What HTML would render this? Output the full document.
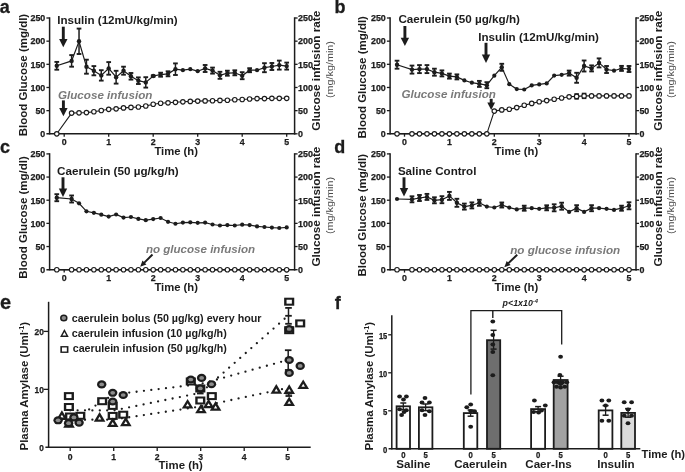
<!DOCTYPE html>
<html><head><meta charset="utf-8"><style>
html,body{margin:0;padding:0;background:#fff;width:685px;height:472px;overflow:hidden}
svg{display:block;filter:grayscale(1)}
text{font-family:"Liberation Sans",sans-serif}
</style></head><body>
<svg width="685" height="472" viewBox="0 0 685 472" font-family="Liberation Sans, sans-serif">
<rect width="685" height="472" fill="#fff"/>
<line x1="49.6" y1="17.3" x2="49.6" y2="134.5" stroke="#1c1c1c" stroke-width="1.5" />
<line x1="294.6" y1="17.3" x2="294.6" y2="134.5" stroke="#1c1c1c" stroke-width="1.5" />
<line x1="46.4" y1="133.8" x2="295.3" y2="133.8" stroke="#1c1c1c" stroke-width="1.5" />
<line x1="294.6" y1="133.8" x2="297.6" y2="133.8" stroke="#1c1c1c" stroke-width="1.3" />
<text x="45.3" y="137.1" font-size="8.4" font-weight="bold" font-style="normal" text-anchor="end" fill="#1c1c1c" textLength="4.95" lengthAdjust="spacingAndGlyphs" stroke="#1c1c1c" stroke-width="0.25">0</text>
<text x="298" y="137.1" font-size="8.4" font-weight="bold" font-style="normal" text-anchor="start" fill="#1c1c1c" textLength="4.95" lengthAdjust="spacingAndGlyphs" stroke="#1c1c1c" stroke-width="0.25">0</text>
<line x1="46.4" y1="110.64" x2="49.6" y2="110.64" stroke="#1c1c1c" stroke-width="1.3" />
<line x1="294.6" y1="110.64" x2="297.6" y2="110.64" stroke="#1c1c1c" stroke-width="1.3" />
<text x="45.3" y="113.94" font-size="8.4" font-weight="bold" font-style="normal" text-anchor="end" fill="#1c1c1c" textLength="9.9" lengthAdjust="spacingAndGlyphs" stroke="#1c1c1c" stroke-width="0.25">50</text>
<text x="298" y="113.94" font-size="8.4" font-weight="bold" font-style="normal" text-anchor="start" fill="#1c1c1c" textLength="9.9" lengthAdjust="spacingAndGlyphs" stroke="#1c1c1c" stroke-width="0.25">50</text>
<line x1="46.4" y1="87.48" x2="49.6" y2="87.48" stroke="#1c1c1c" stroke-width="1.3" />
<line x1="294.6" y1="87.48" x2="297.6" y2="87.48" stroke="#1c1c1c" stroke-width="1.3" />
<text x="45.3" y="90.78" font-size="8.4" font-weight="bold" font-style="normal" text-anchor="end" fill="#1c1c1c" textLength="14.85" lengthAdjust="spacingAndGlyphs" stroke="#1c1c1c" stroke-width="0.25">100</text>
<text x="298" y="90.78" font-size="8.4" font-weight="bold" font-style="normal" text-anchor="start" fill="#1c1c1c" textLength="14.85" lengthAdjust="spacingAndGlyphs" stroke="#1c1c1c" stroke-width="0.25">100</text>
<line x1="46.4" y1="64.32" x2="49.6" y2="64.32" stroke="#1c1c1c" stroke-width="1.3" />
<line x1="294.6" y1="64.32" x2="297.6" y2="64.32" stroke="#1c1c1c" stroke-width="1.3" />
<text x="45.3" y="67.62" font-size="8.4" font-weight="bold" font-style="normal" text-anchor="end" fill="#1c1c1c" textLength="14.85" lengthAdjust="spacingAndGlyphs" stroke="#1c1c1c" stroke-width="0.25">150</text>
<text x="298" y="67.62" font-size="8.4" font-weight="bold" font-style="normal" text-anchor="start" fill="#1c1c1c" textLength="14.85" lengthAdjust="spacingAndGlyphs" stroke="#1c1c1c" stroke-width="0.25">150</text>
<line x1="46.4" y1="41.16" x2="49.6" y2="41.16" stroke="#1c1c1c" stroke-width="1.3" />
<line x1="294.6" y1="41.16" x2="297.6" y2="41.16" stroke="#1c1c1c" stroke-width="1.3" />
<text x="45.3" y="44.46" font-size="8.4" font-weight="bold" font-style="normal" text-anchor="end" fill="#1c1c1c" textLength="14.85" lengthAdjust="spacingAndGlyphs" stroke="#1c1c1c" stroke-width="0.25">200</text>
<text x="298" y="44.46" font-size="8.4" font-weight="bold" font-style="normal" text-anchor="start" fill="#1c1c1c" textLength="14.85" lengthAdjust="spacingAndGlyphs" stroke="#1c1c1c" stroke-width="0.25">200</text>
<line x1="46.4" y1="18" x2="49.6" y2="18" stroke="#1c1c1c" stroke-width="1.3" />
<line x1="294.6" y1="18" x2="297.6" y2="18" stroke="#1c1c1c" stroke-width="1.3" />
<text x="45.3" y="21.3" font-size="8.4" font-weight="bold" font-style="normal" text-anchor="end" fill="#1c1c1c" textLength="14.85" lengthAdjust="spacingAndGlyphs" stroke="#1c1c1c" stroke-width="0.25">250</text>
<text x="298" y="21.3" font-size="8.4" font-weight="bold" font-style="normal" text-anchor="start" fill="#1c1c1c" textLength="14.85" lengthAdjust="spacingAndGlyphs" stroke="#1c1c1c" stroke-width="0.25">250</text>
<line x1="64.2" y1="133.8" x2="64.2" y2="136.7" stroke="#1c1c1c" stroke-width="1.3" />
<text x="64.2" y="145.4" font-size="8.8" font-weight="bold" font-style="normal" text-anchor="middle" fill="#1c1c1c" stroke="#1c1c1c" stroke-width="0.25">0</text>
<line x1="108.7" y1="133.8" x2="108.7" y2="136.7" stroke="#1c1c1c" stroke-width="1.3" />
<text x="108.7" y="145.4" font-size="8.8" font-weight="bold" font-style="normal" text-anchor="middle" fill="#1c1c1c" stroke="#1c1c1c" stroke-width="0.25">1</text>
<line x1="153.2" y1="133.8" x2="153.2" y2="136.7" stroke="#1c1c1c" stroke-width="1.3" />
<text x="153.2" y="145.4" font-size="8.8" font-weight="bold" font-style="normal" text-anchor="middle" fill="#1c1c1c" stroke="#1c1c1c" stroke-width="0.25">2</text>
<line x1="197.7" y1="133.8" x2="197.7" y2="136.7" stroke="#1c1c1c" stroke-width="1.3" />
<text x="197.7" y="145.4" font-size="8.8" font-weight="bold" font-style="normal" text-anchor="middle" fill="#1c1c1c" stroke="#1c1c1c" stroke-width="0.25">3</text>
<line x1="242.2" y1="133.8" x2="242.2" y2="136.7" stroke="#1c1c1c" stroke-width="1.3" />
<text x="242.2" y="145.4" font-size="8.8" font-weight="bold" font-style="normal" text-anchor="middle" fill="#1c1c1c" stroke="#1c1c1c" stroke-width="0.25">4</text>
<line x1="286.7" y1="133.8" x2="286.7" y2="136.7" stroke="#1c1c1c" stroke-width="1.3" />
<text x="286.7" y="145.4" font-size="8.8" font-weight="bold" font-style="normal" text-anchor="middle" fill="#1c1c1c" stroke="#1c1c1c" stroke-width="0.25">5</text>
<polyline points="56.78,133.8 71.62,113.1 79.03,112.8 86.45,112.6 93.87,111.7 101.28,110.5 108.7,109.3 116.12,108.8 123.53,107.9 130.95,107.4 138.37,107 145.78,106 153.2,104.2 160.62,103.2 168.03,102.8 175.45,102.3 182.87,101.8 190.28,101.4 197.7,101.1 205.12,100.9 212.53,100.7 219.95,100.4 227.37,100.2 234.78,99.7 242.2,99.5 249.62,99 257.03,98.6 264.45,98.6 271.87,98.3 279.28,98.3 286.7,98.3" fill="none" stroke="#1c1c1c" stroke-width="1.1"/>
<polyline points="56.78,65.8 71.62,60.9 79.03,41.3 86.45,66.7 93.87,70.7 101.28,75.4 108.7,68.4 116.12,77.2 123.53,70.7 130.95,76.3 138.37,80.7 145.78,82.4 153.2,76 160.62,74.7 168.03,73.8 175.45,69.2 182.87,70.2 190.28,69.2 197.7,71.2 205.12,68.5 212.53,70.6 219.95,75.3 227.37,73.2 234.78,72.8 242.2,75.7 249.62,70.2 257.03,70.2 264.45,67.7 271.87,66.5 279.28,65.1 286.7,66.1" fill="none" stroke="#1c1c1c" stroke-width="1.2"/>
<line x1="56.78" y1="61.9" x2="56.78" y2="69.7" stroke="#1c1c1c" stroke-width="1.5" />
<line x1="54.43" y1="61.9" x2="59.13" y2="61.9" stroke="#1c1c1c" stroke-width="1.9" />
<line x1="54.43" y1="69.7" x2="59.13" y2="69.7" stroke="#1c1c1c" stroke-width="1.9" />
<circle cx="56.78" cy="65.8" r="2.2" fill="#1c1c1c"/>
<line x1="71.62" y1="55.1" x2="71.62" y2="66.7" stroke="#1c1c1c" stroke-width="1.5" />
<line x1="69.27" y1="55.1" x2="73.97" y2="55.1" stroke="#1c1c1c" stroke-width="1.9" />
<line x1="69.27" y1="66.7" x2="73.97" y2="66.7" stroke="#1c1c1c" stroke-width="1.9" />
<circle cx="71.62" cy="60.9" r="2.2" fill="#1c1c1c"/>
<line x1="79.03" y1="28.6" x2="79.03" y2="54" stroke="#1c1c1c" stroke-width="1.5" />
<line x1="76.68" y1="28.6" x2="81.38" y2="28.6" stroke="#1c1c1c" stroke-width="1.9" />
<line x1="76.68" y1="54" x2="81.38" y2="54" stroke="#1c1c1c" stroke-width="1.9" />
<circle cx="79.03" cy="41.3" r="2.2" fill="#1c1c1c"/>
<line x1="86.45" y1="59.7" x2="86.45" y2="73.7" stroke="#1c1c1c" stroke-width="1.5" />
<line x1="84.1" y1="59.7" x2="88.8" y2="59.7" stroke="#1c1c1c" stroke-width="1.9" />
<line x1="84.1" y1="73.7" x2="88.8" y2="73.7" stroke="#1c1c1c" stroke-width="1.9" />
<circle cx="86.45" cy="66.7" r="2.2" fill="#1c1c1c"/>
<line x1="93.87" y1="66.1" x2="93.87" y2="75.3" stroke="#1c1c1c" stroke-width="1.5" />
<line x1="91.52" y1="66.1" x2="96.22" y2="66.1" stroke="#1c1c1c" stroke-width="1.9" />
<line x1="91.52" y1="75.3" x2="96.22" y2="75.3" stroke="#1c1c1c" stroke-width="1.9" />
<circle cx="93.87" cy="70.7" r="2.2" fill="#1c1c1c"/>
<line x1="101.28" y1="70.2" x2="101.28" y2="80.6" stroke="#1c1c1c" stroke-width="1.5" />
<line x1="98.93" y1="70.2" x2="103.63" y2="70.2" stroke="#1c1c1c" stroke-width="1.9" />
<line x1="98.93" y1="80.6" x2="103.63" y2="80.6" stroke="#1c1c1c" stroke-width="1.9" />
<circle cx="101.28" cy="75.4" r="2.2" fill="#1c1c1c"/>
<line x1="108.7" y1="62.1" x2="108.7" y2="74.7" stroke="#1c1c1c" stroke-width="1.5" />
<line x1="106.35" y1="62.1" x2="111.05" y2="62.1" stroke="#1c1c1c" stroke-width="1.9" />
<line x1="106.35" y1="74.7" x2="111.05" y2="74.7" stroke="#1c1c1c" stroke-width="1.9" />
<circle cx="108.7" cy="68.4" r="2.2" fill="#1c1c1c"/>
<line x1="116.12" y1="70.8" x2="116.12" y2="83.6" stroke="#1c1c1c" stroke-width="1.5" />
<line x1="113.77" y1="70.8" x2="118.47" y2="70.8" stroke="#1c1c1c" stroke-width="1.9" />
<line x1="113.77" y1="83.6" x2="118.47" y2="83.6" stroke="#1c1c1c" stroke-width="1.9" />
<circle cx="116.12" cy="77.2" r="2.2" fill="#1c1c1c"/>
<line x1="123.53" y1="66.7" x2="123.53" y2="74.7" stroke="#1c1c1c" stroke-width="1.5" />
<line x1="121.18" y1="66.7" x2="125.88" y2="66.7" stroke="#1c1c1c" stroke-width="1.9" />
<line x1="121.18" y1="74.7" x2="125.88" y2="74.7" stroke="#1c1c1c" stroke-width="1.9" />
<circle cx="123.53" cy="70.7" r="2.2" fill="#1c1c1c"/>
<line x1="130.95" y1="73" x2="130.95" y2="79.6" stroke="#1c1c1c" stroke-width="1.5" />
<line x1="128.6" y1="73" x2="133.3" y2="73" stroke="#1c1c1c" stroke-width="1.9" />
<line x1="128.6" y1="79.6" x2="133.3" y2="79.6" stroke="#1c1c1c" stroke-width="1.9" />
<circle cx="130.95" cy="76.3" r="2.2" fill="#1c1c1c"/>
<line x1="138.37" y1="77.4" x2="138.37" y2="84" stroke="#1c1c1c" stroke-width="1.5" />
<line x1="136.02" y1="77.4" x2="140.72" y2="77.4" stroke="#1c1c1c" stroke-width="1.9" />
<line x1="136.02" y1="84" x2="140.72" y2="84" stroke="#1c1c1c" stroke-width="1.9" />
<circle cx="138.37" cy="80.7" r="2.2" fill="#1c1c1c"/>
<line x1="145.78" y1="77.2" x2="145.78" y2="87.6" stroke="#1c1c1c" stroke-width="1.5" />
<line x1="143.43" y1="77.2" x2="148.13" y2="77.2" stroke="#1c1c1c" stroke-width="1.9" />
<line x1="143.43" y1="87.6" x2="148.13" y2="87.6" stroke="#1c1c1c" stroke-width="1.9" />
<circle cx="145.78" cy="82.4" r="2.2" fill="#1c1c1c"/>
<line x1="153.2" y1="75.4" x2="153.2" y2="76.6" stroke="#1c1c1c" stroke-width="1.5" />
<line x1="150.85" y1="75.4" x2="155.55" y2="75.4" stroke="#1c1c1c" stroke-width="1.9" />
<line x1="150.85" y1="76.6" x2="155.55" y2="76.6" stroke="#1c1c1c" stroke-width="1.9" />
<circle cx="153.2" cy="76" r="2.2" fill="#1c1c1c"/>
<line x1="160.62" y1="72.7" x2="160.62" y2="76.7" stroke="#1c1c1c" stroke-width="1.5" />
<line x1="158.27" y1="72.7" x2="162.97" y2="72.7" stroke="#1c1c1c" stroke-width="1.9" />
<line x1="158.27" y1="76.7" x2="162.97" y2="76.7" stroke="#1c1c1c" stroke-width="1.9" />
<circle cx="160.62" cy="74.7" r="2.2" fill="#1c1c1c"/>
<line x1="168.03" y1="71.3" x2="168.03" y2="76.3" stroke="#1c1c1c" stroke-width="1.5" />
<line x1="165.68" y1="71.3" x2="170.38" y2="71.3" stroke="#1c1c1c" stroke-width="1.9" />
<line x1="165.68" y1="76.3" x2="170.38" y2="76.3" stroke="#1c1c1c" stroke-width="1.9" />
<circle cx="168.03" cy="73.8" r="2.2" fill="#1c1c1c"/>
<line x1="175.45" y1="63.4" x2="175.45" y2="75" stroke="#1c1c1c" stroke-width="1.5" />
<line x1="173.1" y1="63.4" x2="177.8" y2="63.4" stroke="#1c1c1c" stroke-width="1.9" />
<line x1="173.1" y1="75" x2="177.8" y2="75" stroke="#1c1c1c" stroke-width="1.9" />
<circle cx="175.45" cy="69.2" r="2.2" fill="#1c1c1c"/>
<circle cx="182.87" cy="70.2" r="2.1" fill="#1c1c1c"/>
<circle cx="190.28" cy="69.2" r="2.1" fill="#1c1c1c"/>
<circle cx="197.7" cy="71.2" r="2.1" fill="#1c1c1c"/>
<line x1="205.12" y1="65" x2="205.12" y2="72" stroke="#1c1c1c" stroke-width="1.5" />
<line x1="202.77" y1="65" x2="207.47" y2="65" stroke="#1c1c1c" stroke-width="1.9" />
<line x1="202.77" y1="72" x2="207.47" y2="72" stroke="#1c1c1c" stroke-width="1.9" />
<circle cx="205.12" cy="68.5" r="2.2" fill="#1c1c1c"/>
<line x1="212.53" y1="67.6" x2="212.53" y2="73.6" stroke="#1c1c1c" stroke-width="1.5" />
<line x1="210.18" y1="67.6" x2="214.88" y2="67.6" stroke="#1c1c1c" stroke-width="1.9" />
<line x1="210.18" y1="73.6" x2="214.88" y2="73.6" stroke="#1c1c1c" stroke-width="1.9" />
<circle cx="212.53" cy="70.6" r="2.2" fill="#1c1c1c"/>
<line x1="219.95" y1="71.8" x2="219.95" y2="78.8" stroke="#1c1c1c" stroke-width="1.5" />
<line x1="217.6" y1="71.8" x2="222.3" y2="71.8" stroke="#1c1c1c" stroke-width="1.9" />
<line x1="217.6" y1="78.8" x2="222.3" y2="78.8" stroke="#1c1c1c" stroke-width="1.9" />
<circle cx="219.95" cy="75.3" r="2.2" fill="#1c1c1c"/>
<line x1="227.37" y1="70.7" x2="227.37" y2="75.7" stroke="#1c1c1c" stroke-width="1.5" />
<line x1="225.02" y1="70.7" x2="229.72" y2="70.7" stroke="#1c1c1c" stroke-width="1.9" />
<line x1="225.02" y1="75.7" x2="229.72" y2="75.7" stroke="#1c1c1c" stroke-width="1.9" />
<circle cx="227.37" cy="73.2" r="2.2" fill="#1c1c1c"/>
<line x1="234.78" y1="70.3" x2="234.78" y2="75.3" stroke="#1c1c1c" stroke-width="1.5" />
<line x1="232.43" y1="70.3" x2="237.13" y2="70.3" stroke="#1c1c1c" stroke-width="1.9" />
<line x1="232.43" y1="75.3" x2="237.13" y2="75.3" stroke="#1c1c1c" stroke-width="1.9" />
<circle cx="234.78" cy="72.8" r="2.2" fill="#1c1c1c"/>
<line x1="242.2" y1="72.2" x2="242.2" y2="79.2" stroke="#1c1c1c" stroke-width="1.5" />
<line x1="239.85" y1="72.2" x2="244.55" y2="72.2" stroke="#1c1c1c" stroke-width="1.9" />
<line x1="239.85" y1="79.2" x2="244.55" y2="79.2" stroke="#1c1c1c" stroke-width="1.9" />
<circle cx="242.2" cy="75.7" r="2.2" fill="#1c1c1c"/>
<line x1="249.62" y1="68.2" x2="249.62" y2="72.2" stroke="#1c1c1c" stroke-width="1.5" />
<line x1="247.27" y1="68.2" x2="251.97" y2="68.2" stroke="#1c1c1c" stroke-width="1.9" />
<line x1="247.27" y1="72.2" x2="251.97" y2="72.2" stroke="#1c1c1c" stroke-width="1.9" />
<circle cx="249.62" cy="70.2" r="2.2" fill="#1c1c1c"/>
<circle cx="257.03" cy="70.2" r="2.1" fill="#1c1c1c"/>
<line x1="264.45" y1="63.2" x2="264.45" y2="72.2" stroke="#1c1c1c" stroke-width="1.5" />
<line x1="262.1" y1="63.2" x2="266.8" y2="63.2" stroke="#1c1c1c" stroke-width="1.9" />
<line x1="262.1" y1="72.2" x2="266.8" y2="72.2" stroke="#1c1c1c" stroke-width="1.9" />
<circle cx="264.45" cy="67.7" r="2.2" fill="#1c1c1c"/>
<line x1="271.87" y1="63" x2="271.87" y2="70" stroke="#1c1c1c" stroke-width="1.5" />
<line x1="269.52" y1="63" x2="274.22" y2="63" stroke="#1c1c1c" stroke-width="1.9" />
<line x1="269.52" y1="70" x2="274.22" y2="70" stroke="#1c1c1c" stroke-width="1.9" />
<circle cx="271.87" cy="66.5" r="2.2" fill="#1c1c1c"/>
<line x1="279.28" y1="60.6" x2="279.28" y2="69.6" stroke="#1c1c1c" stroke-width="1.5" />
<line x1="276.93" y1="60.6" x2="281.63" y2="60.6" stroke="#1c1c1c" stroke-width="1.9" />
<line x1="276.93" y1="69.6" x2="281.63" y2="69.6" stroke="#1c1c1c" stroke-width="1.9" />
<circle cx="279.28" cy="65.1" r="2.2" fill="#1c1c1c"/>
<line x1="286.7" y1="62.6" x2="286.7" y2="69.6" stroke="#1c1c1c" stroke-width="1.5" />
<line x1="284.35" y1="62.6" x2="289.05" y2="62.6" stroke="#1c1c1c" stroke-width="1.9" />
<line x1="284.35" y1="69.6" x2="289.05" y2="69.6" stroke="#1c1c1c" stroke-width="1.9" />
<circle cx="286.7" cy="66.1" r="2.2" fill="#1c1c1c"/>
<circle cx="56.78" cy="133.8" r="2.25" fill="#fff" stroke="#1c1c1c" stroke-width="1.15"/>
<circle cx="71.62" cy="113.1" r="2.25" fill="#fff" stroke="#1c1c1c" stroke-width="1.15"/>
<circle cx="79.03" cy="112.8" r="2.25" fill="#fff" stroke="#1c1c1c" stroke-width="1.15"/>
<circle cx="86.45" cy="112.6" r="2.25" fill="#fff" stroke="#1c1c1c" stroke-width="1.15"/>
<circle cx="93.87" cy="111.7" r="2.25" fill="#fff" stroke="#1c1c1c" stroke-width="1.15"/>
<circle cx="101.28" cy="110.5" r="2.25" fill="#fff" stroke="#1c1c1c" stroke-width="1.15"/>
<circle cx="108.7" cy="109.3" r="2.25" fill="#fff" stroke="#1c1c1c" stroke-width="1.15"/>
<circle cx="116.12" cy="108.8" r="2.25" fill="#fff" stroke="#1c1c1c" stroke-width="1.15"/>
<circle cx="123.53" cy="107.9" r="2.25" fill="#fff" stroke="#1c1c1c" stroke-width="1.15"/>
<circle cx="130.95" cy="107.4" r="2.25" fill="#fff" stroke="#1c1c1c" stroke-width="1.15"/>
<circle cx="138.37" cy="107" r="2.25" fill="#fff" stroke="#1c1c1c" stroke-width="1.15"/>
<circle cx="145.78" cy="106" r="2.25" fill="#fff" stroke="#1c1c1c" stroke-width="1.15"/>
<circle cx="153.2" cy="104.2" r="2.25" fill="#fff" stroke="#1c1c1c" stroke-width="1.15"/>
<circle cx="160.62" cy="103.2" r="2.25" fill="#fff" stroke="#1c1c1c" stroke-width="1.15"/>
<circle cx="168.03" cy="102.8" r="2.25" fill="#fff" stroke="#1c1c1c" stroke-width="1.15"/>
<circle cx="175.45" cy="102.3" r="2.25" fill="#fff" stroke="#1c1c1c" stroke-width="1.15"/>
<circle cx="182.87" cy="101.8" r="2.25" fill="#fff" stroke="#1c1c1c" stroke-width="1.15"/>
<circle cx="190.28" cy="101.4" r="2.25" fill="#fff" stroke="#1c1c1c" stroke-width="1.15"/>
<circle cx="197.7" cy="101.1" r="2.25" fill="#fff" stroke="#1c1c1c" stroke-width="1.15"/>
<circle cx="205.12" cy="100.9" r="2.25" fill="#fff" stroke="#1c1c1c" stroke-width="1.15"/>
<circle cx="212.53" cy="100.7" r="2.25" fill="#fff" stroke="#1c1c1c" stroke-width="1.15"/>
<circle cx="219.95" cy="100.4" r="2.25" fill="#fff" stroke="#1c1c1c" stroke-width="1.15"/>
<circle cx="227.37" cy="100.2" r="2.25" fill="#fff" stroke="#1c1c1c" stroke-width="1.15"/>
<circle cx="234.78" cy="99.7" r="2.25" fill="#fff" stroke="#1c1c1c" stroke-width="1.15"/>
<circle cx="242.2" cy="99.5" r="2.25" fill="#fff" stroke="#1c1c1c" stroke-width="1.15"/>
<circle cx="249.62" cy="99" r="2.25" fill="#fff" stroke="#1c1c1c" stroke-width="1.15"/>
<circle cx="257.03" cy="98.6" r="2.25" fill="#fff" stroke="#1c1c1c" stroke-width="1.15"/>
<circle cx="264.45" cy="98.6" r="2.25" fill="#fff" stroke="#1c1c1c" stroke-width="1.15"/>
<circle cx="271.87" cy="98.3" r="2.25" fill="#fff" stroke="#1c1c1c" stroke-width="1.15"/>
<circle cx="279.28" cy="98.3" r="2.25" fill="#fff" stroke="#1c1c1c" stroke-width="1.15"/>
<circle cx="286.7" cy="98.3" r="2.25" fill="#fff" stroke="#1c1c1c" stroke-width="1.15"/>
<text transform="translate(27,75.05) rotate(-90)" x="0" y="0" font-size="11.3" font-weight="bold" text-anchor="middle" fill="#1c1c1c" textLength="122.5" lengthAdjust="spacingAndGlyphs">Blood Glucose (mg/dl)</text>
<text transform="translate(320.1,70.7) rotate(-90)" x="0" y="0" font-size="11.4" font-weight="bold" text-anchor="middle" fill="#1c1c1c" textLength="120" lengthAdjust="spacingAndGlyphs">Glucose infusion rate</text>
<text transform="translate(332.9,69.6) rotate(-90)" x="0" y="0" font-size="8.9" font-weight="normal" text-anchor="middle" fill="#4a4a4a" textLength="57" lengthAdjust="spacingAndGlyphs">(mg/kg/min)</text>
<text x="154.4" y="154.8" font-size="11.4" font-weight="bold" font-style="normal" text-anchor="start" fill="#1c1c1c" textLength="43.6" lengthAdjust="spacingAndGlyphs" >Time (h)</text>
<line x1="390.1" y1="17.3" x2="390.1" y2="134.5" stroke="#1c1c1c" stroke-width="1.5" />
<line x1="636" y1="17.3" x2="636" y2="134.5" stroke="#1c1c1c" stroke-width="1.5" />
<line x1="386.9" y1="133.8" x2="636.7" y2="133.8" stroke="#1c1c1c" stroke-width="1.5" />
<line x1="636" y1="133.8" x2="639" y2="133.8" stroke="#1c1c1c" stroke-width="1.3" />
<text x="385.8" y="137.1" font-size="8.4" font-weight="bold" font-style="normal" text-anchor="end" fill="#1c1c1c" textLength="4.95" lengthAdjust="spacingAndGlyphs" stroke="#1c1c1c" stroke-width="0.25">0</text>
<text x="639.4" y="137.1" font-size="8.4" font-weight="bold" font-style="normal" text-anchor="start" fill="#1c1c1c" textLength="4.95" lengthAdjust="spacingAndGlyphs" stroke="#1c1c1c" stroke-width="0.25">0</text>
<line x1="386.9" y1="110.64" x2="390.1" y2="110.64" stroke="#1c1c1c" stroke-width="1.3" />
<line x1="636" y1="110.64" x2="639" y2="110.64" stroke="#1c1c1c" stroke-width="1.3" />
<text x="385.8" y="113.94" font-size="8.4" font-weight="bold" font-style="normal" text-anchor="end" fill="#1c1c1c" textLength="9.9" lengthAdjust="spacingAndGlyphs" stroke="#1c1c1c" stroke-width="0.25">50</text>
<text x="639.4" y="113.94" font-size="8.4" font-weight="bold" font-style="normal" text-anchor="start" fill="#1c1c1c" textLength="9.9" lengthAdjust="spacingAndGlyphs" stroke="#1c1c1c" stroke-width="0.25">50</text>
<line x1="386.9" y1="87.48" x2="390.1" y2="87.48" stroke="#1c1c1c" stroke-width="1.3" />
<line x1="636" y1="87.48" x2="639" y2="87.48" stroke="#1c1c1c" stroke-width="1.3" />
<text x="385.8" y="90.78" font-size="8.4" font-weight="bold" font-style="normal" text-anchor="end" fill="#1c1c1c" textLength="14.85" lengthAdjust="spacingAndGlyphs" stroke="#1c1c1c" stroke-width="0.25">100</text>
<text x="639.4" y="90.78" font-size="8.4" font-weight="bold" font-style="normal" text-anchor="start" fill="#1c1c1c" textLength="14.85" lengthAdjust="spacingAndGlyphs" stroke="#1c1c1c" stroke-width="0.25">100</text>
<line x1="386.9" y1="64.32" x2="390.1" y2="64.32" stroke="#1c1c1c" stroke-width="1.3" />
<line x1="636" y1="64.32" x2="639" y2="64.32" stroke="#1c1c1c" stroke-width="1.3" />
<text x="385.8" y="67.62" font-size="8.4" font-weight="bold" font-style="normal" text-anchor="end" fill="#1c1c1c" textLength="14.85" lengthAdjust="spacingAndGlyphs" stroke="#1c1c1c" stroke-width="0.25">150</text>
<text x="639.4" y="67.62" font-size="8.4" font-weight="bold" font-style="normal" text-anchor="start" fill="#1c1c1c" textLength="14.85" lengthAdjust="spacingAndGlyphs" stroke="#1c1c1c" stroke-width="0.25">150</text>
<line x1="386.9" y1="41.16" x2="390.1" y2="41.16" stroke="#1c1c1c" stroke-width="1.3" />
<line x1="636" y1="41.16" x2="639" y2="41.16" stroke="#1c1c1c" stroke-width="1.3" />
<text x="385.8" y="44.46" font-size="8.4" font-weight="bold" font-style="normal" text-anchor="end" fill="#1c1c1c" textLength="14.85" lengthAdjust="spacingAndGlyphs" stroke="#1c1c1c" stroke-width="0.25">200</text>
<text x="639.4" y="44.46" font-size="8.4" font-weight="bold" font-style="normal" text-anchor="start" fill="#1c1c1c" textLength="14.85" lengthAdjust="spacingAndGlyphs" stroke="#1c1c1c" stroke-width="0.25">200</text>
<line x1="386.9" y1="18" x2="390.1" y2="18" stroke="#1c1c1c" stroke-width="1.3" />
<line x1="636" y1="18" x2="639" y2="18" stroke="#1c1c1c" stroke-width="1.3" />
<text x="385.8" y="21.3" font-size="8.4" font-weight="bold" font-style="normal" text-anchor="end" fill="#1c1c1c" textLength="14.85" lengthAdjust="spacingAndGlyphs" stroke="#1c1c1c" stroke-width="0.25">250</text>
<text x="639.4" y="21.3" font-size="8.4" font-weight="bold" font-style="normal" text-anchor="start" fill="#1c1c1c" textLength="14.85" lengthAdjust="spacingAndGlyphs" stroke="#1c1c1c" stroke-width="0.25">250</text>
<line x1="404.5" y1="133.8" x2="404.5" y2="136.7" stroke="#1c1c1c" stroke-width="1.3" />
<text x="404.5" y="145.4" font-size="8.8" font-weight="bold" font-style="normal" text-anchor="middle" fill="#1c1c1c" stroke="#1c1c1c" stroke-width="0.25">0</text>
<line x1="449.4" y1="133.8" x2="449.4" y2="136.7" stroke="#1c1c1c" stroke-width="1.3" />
<text x="449.4" y="145.4" font-size="8.8" font-weight="bold" font-style="normal" text-anchor="middle" fill="#1c1c1c" stroke="#1c1c1c" stroke-width="0.25">1</text>
<line x1="494.3" y1="133.8" x2="494.3" y2="136.7" stroke="#1c1c1c" stroke-width="1.3" />
<text x="494.3" y="145.4" font-size="8.8" font-weight="bold" font-style="normal" text-anchor="middle" fill="#1c1c1c" stroke="#1c1c1c" stroke-width="0.25">2</text>
<line x1="539.2" y1="133.8" x2="539.2" y2="136.7" stroke="#1c1c1c" stroke-width="1.3" />
<text x="539.2" y="145.4" font-size="8.8" font-weight="bold" font-style="normal" text-anchor="middle" fill="#1c1c1c" stroke="#1c1c1c" stroke-width="0.25">3</text>
<line x1="584.1" y1="133.8" x2="584.1" y2="136.7" stroke="#1c1c1c" stroke-width="1.3" />
<text x="584.1" y="145.4" font-size="8.8" font-weight="bold" font-style="normal" text-anchor="middle" fill="#1c1c1c" stroke="#1c1c1c" stroke-width="0.25">4</text>
<line x1="629" y1="133.8" x2="629" y2="136.7" stroke="#1c1c1c" stroke-width="1.3" />
<text x="629" y="145.4" font-size="8.8" font-weight="bold" font-style="normal" text-anchor="middle" fill="#1c1c1c" stroke="#1c1c1c" stroke-width="0.25">5</text>
<polyline points="397.02,133.8 411.98,133.8 419.47,133.8 426.95,133.8 434.43,133.8 441.92,133.8 449.4,133.8 456.88,133.8 464.37,133.8 471.85,133.8 479.33,133.8 486.82,133.8 494.3,111.1 501.78,109.9 509.27,109.2 516.75,107.6 524.23,105.2 531.72,103.4 539.2,101.7 546.68,100.6 554.17,99.2 561.65,98 569.13,96.8 576.62,96.4 584.1,95.9 591.58,95.9 599.07,95.9 606.55,95.9 614.03,95.9 621.52,95.9 629,95.9" fill="none" stroke="#1c1c1c" stroke-width="1.1"/>
<polyline points="397.02,64.7 411.98,69.6 419.47,69.1 426.95,69.1 434.43,72.2 441.92,73.4 449.4,76.1 456.88,76.9 464.37,80.4 471.85,82.7 479.33,83.9 486.82,85.2 494.3,75.7 501.78,67.3 509.27,84.2 516.75,89.1 524.23,89.5 531.72,85.4 539.2,84.4 546.68,83.4 554.17,75.6 561.65,74.8 569.13,73.1 576.62,77.8 584.1,66 591.58,68.4 599.07,62.9 606.55,69.5 614.03,70.7 621.52,68.4 629,69" fill="none" stroke="#1c1c1c" stroke-width="1.2"/>
<line x1="397.02" y1="60.7" x2="397.02" y2="68.7" stroke="#1c1c1c" stroke-width="1.5" />
<line x1="394.67" y1="60.7" x2="399.37" y2="60.7" stroke="#1c1c1c" stroke-width="1.9" />
<line x1="394.67" y1="68.7" x2="399.37" y2="68.7" stroke="#1c1c1c" stroke-width="1.9" />
<circle cx="397.02" cy="64.7" r="2.2" fill="#1c1c1c"/>
<line x1="411.98" y1="65.6" x2="411.98" y2="73.6" stroke="#1c1c1c" stroke-width="1.5" />
<line x1="409.63" y1="65.6" x2="414.33" y2="65.6" stroke="#1c1c1c" stroke-width="1.9" />
<line x1="409.63" y1="73.6" x2="414.33" y2="73.6" stroke="#1c1c1c" stroke-width="1.9" />
<circle cx="411.98" cy="69.6" r="2.2" fill="#1c1c1c"/>
<line x1="419.47" y1="65.1" x2="419.47" y2="73.1" stroke="#1c1c1c" stroke-width="1.5" />
<line x1="417.12" y1="65.1" x2="421.82" y2="65.1" stroke="#1c1c1c" stroke-width="1.9" />
<line x1="417.12" y1="73.1" x2="421.82" y2="73.1" stroke="#1c1c1c" stroke-width="1.9" />
<circle cx="419.47" cy="69.1" r="2.2" fill="#1c1c1c"/>
<line x1="426.95" y1="65.1" x2="426.95" y2="73.1" stroke="#1c1c1c" stroke-width="1.5" />
<line x1="424.6" y1="65.1" x2="429.3" y2="65.1" stroke="#1c1c1c" stroke-width="1.9" />
<line x1="424.6" y1="73.1" x2="429.3" y2="73.1" stroke="#1c1c1c" stroke-width="1.9" />
<circle cx="426.95" cy="69.1" r="2.2" fill="#1c1c1c"/>
<line x1="434.43" y1="68.7" x2="434.43" y2="75.7" stroke="#1c1c1c" stroke-width="1.5" />
<line x1="432.08" y1="68.7" x2="436.78" y2="68.7" stroke="#1c1c1c" stroke-width="1.9" />
<line x1="432.08" y1="75.7" x2="436.78" y2="75.7" stroke="#1c1c1c" stroke-width="1.9" />
<circle cx="434.43" cy="72.2" r="2.2" fill="#1c1c1c"/>
<line x1="441.92" y1="70.4" x2="441.92" y2="76.4" stroke="#1c1c1c" stroke-width="1.5" />
<line x1="439.57" y1="70.4" x2="444.27" y2="70.4" stroke="#1c1c1c" stroke-width="1.9" />
<line x1="439.57" y1="76.4" x2="444.27" y2="76.4" stroke="#1c1c1c" stroke-width="1.9" />
<circle cx="441.92" cy="73.4" r="2.2" fill="#1c1c1c"/>
<line x1="449.4" y1="73.6" x2="449.4" y2="78.6" stroke="#1c1c1c" stroke-width="1.5" />
<line x1="447.05" y1="73.6" x2="451.75" y2="73.6" stroke="#1c1c1c" stroke-width="1.9" />
<line x1="447.05" y1="78.6" x2="451.75" y2="78.6" stroke="#1c1c1c" stroke-width="1.9" />
<circle cx="449.4" cy="76.1" r="2.2" fill="#1c1c1c"/>
<line x1="456.88" y1="74.4" x2="456.88" y2="79.4" stroke="#1c1c1c" stroke-width="1.5" />
<line x1="454.53" y1="74.4" x2="459.23" y2="74.4" stroke="#1c1c1c" stroke-width="1.9" />
<line x1="454.53" y1="79.4" x2="459.23" y2="79.4" stroke="#1c1c1c" stroke-width="1.9" />
<circle cx="456.88" cy="76.9" r="2.2" fill="#1c1c1c"/>
<circle cx="464.37" cy="80.4" r="2.1" fill="#1c1c1c"/>
<circle cx="471.85" cy="82.7" r="2.1" fill="#1c1c1c"/>
<line x1="479.33" y1="80.9" x2="479.33" y2="86.9" stroke="#1c1c1c" stroke-width="1.5" />
<line x1="476.98" y1="80.9" x2="481.68" y2="80.9" stroke="#1c1c1c" stroke-width="1.9" />
<line x1="476.98" y1="86.9" x2="481.68" y2="86.9" stroke="#1c1c1c" stroke-width="1.9" />
<circle cx="479.33" cy="83.9" r="2.2" fill="#1c1c1c"/>
<line x1="486.82" y1="82.2" x2="486.82" y2="88.2" stroke="#1c1c1c" stroke-width="1.5" />
<line x1="484.47" y1="82.2" x2="489.17" y2="82.2" stroke="#1c1c1c" stroke-width="1.9" />
<line x1="484.47" y1="88.2" x2="489.17" y2="88.2" stroke="#1c1c1c" stroke-width="1.9" />
<circle cx="486.82" cy="85.2" r="2.2" fill="#1c1c1c"/>
<circle cx="494.3" cy="75.7" r="2.1" fill="#1c1c1c"/>
<line x1="501.78" y1="63.8" x2="501.78" y2="70.8" stroke="#1c1c1c" stroke-width="1.5" />
<line x1="499.43" y1="63.8" x2="504.13" y2="63.8" stroke="#1c1c1c" stroke-width="1.9" />
<line x1="499.43" y1="70.8" x2="504.13" y2="70.8" stroke="#1c1c1c" stroke-width="1.9" />
<circle cx="501.78" cy="67.3" r="2.2" fill="#1c1c1c"/>
<circle cx="509.27" cy="84.2" r="2.1" fill="#1c1c1c"/>
<circle cx="516.75" cy="89.1" r="2.1" fill="#1c1c1c"/>
<circle cx="524.23" cy="89.5" r="2.1" fill="#1c1c1c"/>
<circle cx="531.72" cy="85.4" r="2.1" fill="#1c1c1c"/>
<circle cx="539.2" cy="84.4" r="2.1" fill="#1c1c1c"/>
<circle cx="546.68" cy="83.4" r="2.1" fill="#1c1c1c"/>
<circle cx="554.17" cy="75.6" r="2.1" fill="#1c1c1c"/>
<circle cx="561.65" cy="74.8" r="2.1" fill="#1c1c1c"/>
<line x1="569.13" y1="70.6" x2="569.13" y2="75.6" stroke="#1c1c1c" stroke-width="1.5" />
<line x1="566.78" y1="70.6" x2="571.48" y2="70.6" stroke="#1c1c1c" stroke-width="1.9" />
<line x1="566.78" y1="75.6" x2="571.48" y2="75.6" stroke="#1c1c1c" stroke-width="1.9" />
<circle cx="569.13" cy="73.1" r="2.2" fill="#1c1c1c"/>
<line x1="576.62" y1="72.8" x2="576.62" y2="82.8" stroke="#1c1c1c" stroke-width="1.5" />
<line x1="574.27" y1="72.8" x2="578.97" y2="72.8" stroke="#1c1c1c" stroke-width="1.9" />
<line x1="574.27" y1="82.8" x2="578.97" y2="82.8" stroke="#1c1c1c" stroke-width="1.9" />
<circle cx="576.62" cy="77.8" r="2.2" fill="#1c1c1c"/>
<line x1="584.1" y1="60.5" x2="584.1" y2="71.5" stroke="#1c1c1c" stroke-width="1.5" />
<line x1="581.75" y1="60.5" x2="586.45" y2="60.5" stroke="#1c1c1c" stroke-width="1.9" />
<line x1="581.75" y1="71.5" x2="586.45" y2="71.5" stroke="#1c1c1c" stroke-width="1.9" />
<circle cx="584.1" cy="66" r="2.2" fill="#1c1c1c"/>
<line x1="591.58" y1="65.4" x2="591.58" y2="71.4" stroke="#1c1c1c" stroke-width="1.5" />
<line x1="589.23" y1="65.4" x2="593.93" y2="65.4" stroke="#1c1c1c" stroke-width="1.9" />
<line x1="589.23" y1="71.4" x2="593.93" y2="71.4" stroke="#1c1c1c" stroke-width="1.9" />
<circle cx="591.58" cy="68.4" r="2.2" fill="#1c1c1c"/>
<line x1="599.07" y1="58.4" x2="599.07" y2="67.4" stroke="#1c1c1c" stroke-width="1.5" />
<line x1="596.72" y1="58.4" x2="601.42" y2="58.4" stroke="#1c1c1c" stroke-width="1.9" />
<line x1="596.72" y1="67.4" x2="601.42" y2="67.4" stroke="#1c1c1c" stroke-width="1.9" />
<circle cx="599.07" cy="62.9" r="2.2" fill="#1c1c1c"/>
<line x1="606.55" y1="66" x2="606.55" y2="73" stroke="#1c1c1c" stroke-width="1.5" />
<line x1="604.2" y1="66" x2="608.9" y2="66" stroke="#1c1c1c" stroke-width="1.9" />
<line x1="604.2" y1="73" x2="608.9" y2="73" stroke="#1c1c1c" stroke-width="1.9" />
<circle cx="606.55" cy="69.5" r="2.2" fill="#1c1c1c"/>
<circle cx="614.03" cy="70.7" r="2.1" fill="#1c1c1c"/>
<line x1="621.52" y1="65.9" x2="621.52" y2="70.9" stroke="#1c1c1c" stroke-width="1.5" />
<line x1="619.17" y1="65.9" x2="623.87" y2="65.9" stroke="#1c1c1c" stroke-width="1.9" />
<line x1="619.17" y1="70.9" x2="623.87" y2="70.9" stroke="#1c1c1c" stroke-width="1.9" />
<circle cx="621.52" cy="68.4" r="2.2" fill="#1c1c1c"/>
<line x1="629" y1="66" x2="629" y2="72" stroke="#1c1c1c" stroke-width="1.5" />
<line x1="626.65" y1="66" x2="631.35" y2="66" stroke="#1c1c1c" stroke-width="1.9" />
<line x1="626.65" y1="72" x2="631.35" y2="72" stroke="#1c1c1c" stroke-width="1.9" />
<circle cx="629" cy="69" r="2.2" fill="#1c1c1c"/>
<line x1="576.62" y1="94" x2="576.62" y2="98.8" stroke="#1c1c1c" stroke-width="1.3" />
<line x1="574.32" y1="94" x2="578.92" y2="94" stroke="#1c1c1c" stroke-width="1.6" />
<line x1="574.32" y1="98.8" x2="578.92" y2="98.8" stroke="#1c1c1c" stroke-width="1.6" />
<line x1="584.1" y1="93.5" x2="584.1" y2="98.3" stroke="#1c1c1c" stroke-width="1.3" />
<line x1="581.8" y1="93.5" x2="586.4" y2="93.5" stroke="#1c1c1c" stroke-width="1.6" />
<line x1="581.8" y1="98.3" x2="586.4" y2="98.3" stroke="#1c1c1c" stroke-width="1.6" />
<circle cx="397.02" cy="133.8" r="2.25" fill="#fff" stroke="#1c1c1c" stroke-width="1.15"/>
<circle cx="411.98" cy="133.8" r="2.25" fill="#fff" stroke="#1c1c1c" stroke-width="1.15"/>
<circle cx="419.47" cy="133.8" r="2.25" fill="#fff" stroke="#1c1c1c" stroke-width="1.15"/>
<circle cx="426.95" cy="133.8" r="2.25" fill="#fff" stroke="#1c1c1c" stroke-width="1.15"/>
<circle cx="434.43" cy="133.8" r="2.25" fill="#fff" stroke="#1c1c1c" stroke-width="1.15"/>
<circle cx="441.92" cy="133.8" r="2.25" fill="#fff" stroke="#1c1c1c" stroke-width="1.15"/>
<circle cx="449.4" cy="133.8" r="2.25" fill="#fff" stroke="#1c1c1c" stroke-width="1.15"/>
<circle cx="456.88" cy="133.8" r="2.25" fill="#fff" stroke="#1c1c1c" stroke-width="1.15"/>
<circle cx="464.37" cy="133.8" r="2.25" fill="#fff" stroke="#1c1c1c" stroke-width="1.15"/>
<circle cx="471.85" cy="133.8" r="2.25" fill="#fff" stroke="#1c1c1c" stroke-width="1.15"/>
<circle cx="479.33" cy="133.8" r="2.25" fill="#fff" stroke="#1c1c1c" stroke-width="1.15"/>
<circle cx="486.82" cy="133.8" r="2.25" fill="#fff" stroke="#1c1c1c" stroke-width="1.15"/>
<circle cx="494.3" cy="111.1" r="2.25" fill="#fff" stroke="#1c1c1c" stroke-width="1.15"/>
<circle cx="501.78" cy="109.9" r="2.25" fill="#fff" stroke="#1c1c1c" stroke-width="1.15"/>
<circle cx="509.27" cy="109.2" r="2.25" fill="#fff" stroke="#1c1c1c" stroke-width="1.15"/>
<circle cx="516.75" cy="107.6" r="2.25" fill="#fff" stroke="#1c1c1c" stroke-width="1.15"/>
<circle cx="524.23" cy="105.2" r="2.25" fill="#fff" stroke="#1c1c1c" stroke-width="1.15"/>
<circle cx="531.72" cy="103.4" r="2.25" fill="#fff" stroke="#1c1c1c" stroke-width="1.15"/>
<circle cx="539.2" cy="101.7" r="2.25" fill="#fff" stroke="#1c1c1c" stroke-width="1.15"/>
<circle cx="546.68" cy="100.6" r="2.25" fill="#fff" stroke="#1c1c1c" stroke-width="1.15"/>
<circle cx="554.17" cy="99.2" r="2.25" fill="#fff" stroke="#1c1c1c" stroke-width="1.15"/>
<circle cx="561.65" cy="98" r="2.25" fill="#fff" stroke="#1c1c1c" stroke-width="1.15"/>
<circle cx="569.13" cy="96.8" r="2.25" fill="#fff" stroke="#1c1c1c" stroke-width="1.15"/>
<circle cx="576.62" cy="96.4" r="2.25" fill="#fff" stroke="#1c1c1c" stroke-width="1.15"/>
<circle cx="584.1" cy="95.9" r="2.25" fill="#fff" stroke="#1c1c1c" stroke-width="1.15"/>
<circle cx="591.58" cy="95.9" r="2.25" fill="#fff" stroke="#1c1c1c" stroke-width="1.15"/>
<circle cx="599.07" cy="95.9" r="2.25" fill="#fff" stroke="#1c1c1c" stroke-width="1.15"/>
<circle cx="606.55" cy="95.9" r="2.25" fill="#fff" stroke="#1c1c1c" stroke-width="1.15"/>
<circle cx="614.03" cy="95.9" r="2.25" fill="#fff" stroke="#1c1c1c" stroke-width="1.15"/>
<circle cx="621.52" cy="95.9" r="2.25" fill="#fff" stroke="#1c1c1c" stroke-width="1.15"/>
<circle cx="629" cy="95.9" r="2.25" fill="#fff" stroke="#1c1c1c" stroke-width="1.15"/>
<text transform="translate(366.2,77.3) rotate(-90)" x="0" y="0" font-size="11.3" font-weight="bold" text-anchor="middle" fill="#1c1c1c" textLength="122.5" lengthAdjust="spacingAndGlyphs">Blood Glucose (mg/dl)</text>
<text transform="translate(661.5,70.7) rotate(-90)" x="0" y="0" font-size="11.4" font-weight="bold" text-anchor="middle" fill="#1c1c1c" textLength="120" lengthAdjust="spacingAndGlyphs">Glucose infusion rate</text>
<text transform="translate(674.3,69.6) rotate(-90)" x="0" y="0" font-size="8.9" font-weight="normal" text-anchor="middle" fill="#4a4a4a" textLength="57" lengthAdjust="spacingAndGlyphs">(mg/kg/min)</text>
<text x="494.6" y="154.8" font-size="11.4" font-weight="bold" font-style="normal" text-anchor="start" fill="#1c1c1c" textLength="43.6" lengthAdjust="spacingAndGlyphs" >Time (h)</text>
<line x1="49.6" y1="153.2" x2="49.6" y2="270.4" stroke="#1c1c1c" stroke-width="1.5" />
<line x1="294.6" y1="153.2" x2="294.6" y2="270.4" stroke="#1c1c1c" stroke-width="1.5" />
<line x1="46.4" y1="269.7" x2="295.3" y2="269.7" stroke="#1c1c1c" stroke-width="1.5" />
<line x1="294.6" y1="269.7" x2="297.6" y2="269.7" stroke="#1c1c1c" stroke-width="1.3" />
<text x="45.3" y="273" font-size="8.4" font-weight="bold" font-style="normal" text-anchor="end" fill="#1c1c1c" textLength="4.95" lengthAdjust="spacingAndGlyphs" stroke="#1c1c1c" stroke-width="0.25">0</text>
<text x="298" y="273" font-size="8.4" font-weight="bold" font-style="normal" text-anchor="start" fill="#1c1c1c" textLength="4.95" lengthAdjust="spacingAndGlyphs" stroke="#1c1c1c" stroke-width="0.25">0</text>
<line x1="46.4" y1="246.54" x2="49.6" y2="246.54" stroke="#1c1c1c" stroke-width="1.3" />
<line x1="294.6" y1="246.54" x2="297.6" y2="246.54" stroke="#1c1c1c" stroke-width="1.3" />
<text x="45.3" y="249.84" font-size="8.4" font-weight="bold" font-style="normal" text-anchor="end" fill="#1c1c1c" textLength="9.9" lengthAdjust="spacingAndGlyphs" stroke="#1c1c1c" stroke-width="0.25">50</text>
<text x="298" y="249.84" font-size="8.4" font-weight="bold" font-style="normal" text-anchor="start" fill="#1c1c1c" textLength="9.9" lengthAdjust="spacingAndGlyphs" stroke="#1c1c1c" stroke-width="0.25">50</text>
<line x1="46.4" y1="223.38" x2="49.6" y2="223.38" stroke="#1c1c1c" stroke-width="1.3" />
<line x1="294.6" y1="223.38" x2="297.6" y2="223.38" stroke="#1c1c1c" stroke-width="1.3" />
<text x="45.3" y="226.68" font-size="8.4" font-weight="bold" font-style="normal" text-anchor="end" fill="#1c1c1c" textLength="14.85" lengthAdjust="spacingAndGlyphs" stroke="#1c1c1c" stroke-width="0.25">100</text>
<text x="298" y="226.68" font-size="8.4" font-weight="bold" font-style="normal" text-anchor="start" fill="#1c1c1c" textLength="14.85" lengthAdjust="spacingAndGlyphs" stroke="#1c1c1c" stroke-width="0.25">100</text>
<line x1="46.4" y1="200.22" x2="49.6" y2="200.22" stroke="#1c1c1c" stroke-width="1.3" />
<line x1="294.6" y1="200.22" x2="297.6" y2="200.22" stroke="#1c1c1c" stroke-width="1.3" />
<text x="45.3" y="203.52" font-size="8.4" font-weight="bold" font-style="normal" text-anchor="end" fill="#1c1c1c" textLength="14.85" lengthAdjust="spacingAndGlyphs" stroke="#1c1c1c" stroke-width="0.25">150</text>
<text x="298" y="203.52" font-size="8.4" font-weight="bold" font-style="normal" text-anchor="start" fill="#1c1c1c" textLength="14.85" lengthAdjust="spacingAndGlyphs" stroke="#1c1c1c" stroke-width="0.25">150</text>
<line x1="46.4" y1="177.06" x2="49.6" y2="177.06" stroke="#1c1c1c" stroke-width="1.3" />
<line x1="294.6" y1="177.06" x2="297.6" y2="177.06" stroke="#1c1c1c" stroke-width="1.3" />
<text x="45.3" y="180.36" font-size="8.4" font-weight="bold" font-style="normal" text-anchor="end" fill="#1c1c1c" textLength="14.85" lengthAdjust="spacingAndGlyphs" stroke="#1c1c1c" stroke-width="0.25">200</text>
<text x="298" y="180.36" font-size="8.4" font-weight="bold" font-style="normal" text-anchor="start" fill="#1c1c1c" textLength="14.85" lengthAdjust="spacingAndGlyphs" stroke="#1c1c1c" stroke-width="0.25">200</text>
<line x1="46.4" y1="153.9" x2="49.6" y2="153.9" stroke="#1c1c1c" stroke-width="1.3" />
<line x1="294.6" y1="153.9" x2="297.6" y2="153.9" stroke="#1c1c1c" stroke-width="1.3" />
<text x="45.3" y="157.2" font-size="8.4" font-weight="bold" font-style="normal" text-anchor="end" fill="#1c1c1c" textLength="14.85" lengthAdjust="spacingAndGlyphs" stroke="#1c1c1c" stroke-width="0.25">250</text>
<text x="298" y="157.2" font-size="8.4" font-weight="bold" font-style="normal" text-anchor="start" fill="#1c1c1c" textLength="14.85" lengthAdjust="spacingAndGlyphs" stroke="#1c1c1c" stroke-width="0.25">250</text>
<line x1="64.2" y1="269.7" x2="64.2" y2="272.6" stroke="#1c1c1c" stroke-width="1.3" />
<text x="64.2" y="281.3" font-size="8.8" font-weight="bold" font-style="normal" text-anchor="middle" fill="#1c1c1c" stroke="#1c1c1c" stroke-width="0.25">0</text>
<line x1="108.7" y1="269.7" x2="108.7" y2="272.6" stroke="#1c1c1c" stroke-width="1.3" />
<text x="108.7" y="281.3" font-size="8.8" font-weight="bold" font-style="normal" text-anchor="middle" fill="#1c1c1c" stroke="#1c1c1c" stroke-width="0.25">1</text>
<line x1="153.2" y1="269.7" x2="153.2" y2="272.6" stroke="#1c1c1c" stroke-width="1.3" />
<text x="153.2" y="281.3" font-size="8.8" font-weight="bold" font-style="normal" text-anchor="middle" fill="#1c1c1c" stroke="#1c1c1c" stroke-width="0.25">2</text>
<line x1="197.7" y1="269.7" x2="197.7" y2="272.6" stroke="#1c1c1c" stroke-width="1.3" />
<text x="197.7" y="281.3" font-size="8.8" font-weight="bold" font-style="normal" text-anchor="middle" fill="#1c1c1c" stroke="#1c1c1c" stroke-width="0.25">3</text>
<line x1="242.2" y1="269.7" x2="242.2" y2="272.6" stroke="#1c1c1c" stroke-width="1.3" />
<text x="242.2" y="281.3" font-size="8.8" font-weight="bold" font-style="normal" text-anchor="middle" fill="#1c1c1c" stroke="#1c1c1c" stroke-width="0.25">4</text>
<line x1="286.7" y1="269.7" x2="286.7" y2="272.6" stroke="#1c1c1c" stroke-width="1.3" />
<text x="286.7" y="281.3" font-size="8.8" font-weight="bold" font-style="normal" text-anchor="middle" fill="#1c1c1c" stroke="#1c1c1c" stroke-width="0.25">5</text>
<polyline points="56.78,269.7 71.62,269.7 79.03,269.7 86.45,269.7 93.87,269.7 101.28,269.7 108.7,269.7 116.12,269.7 123.53,269.7 130.95,269.7 138.37,269.7 145.78,269.7 153.2,269.7 160.62,269.7 168.03,269.7 175.45,269.7 182.87,269.7 190.28,269.7 197.7,269.7 205.12,269.7 212.53,269.7 219.95,269.7 227.37,269.7 234.78,269.7 242.2,269.7 249.62,269.7 257.03,269.7 264.45,269.7 271.87,269.7 279.28,269.7 286.7,269.7" fill="none" stroke="#1c1c1c" stroke-width="1.1"/>
<polyline points="56.78,197.7 71.62,199 79.03,203.3 86.45,211.3 93.87,212.8 101.28,214.7 108.7,216.6 116.12,214.5 123.53,217.6 130.95,217 138.37,218.9 145.78,220.2 153.2,219.1 160.62,218 168.03,221.8 175.45,223.75 182.87,222.6 190.28,222.3 197.7,222.8 205.12,222.6 212.53,224.5 219.95,225.5 227.37,225.1 234.78,225.5 242.2,224.7 249.62,225.1 257.03,226.4 264.45,227 271.87,227.6 279.28,228 286.7,227.4" fill="none" stroke="#1c1c1c" stroke-width="1.2"/>
<line x1="56.78" y1="194.2" x2="56.78" y2="201.2" stroke="#1c1c1c" stroke-width="1.5" />
<line x1="54.43" y1="194.2" x2="59.13" y2="194.2" stroke="#1c1c1c" stroke-width="1.9" />
<line x1="54.43" y1="201.2" x2="59.13" y2="201.2" stroke="#1c1c1c" stroke-width="1.9" />
<circle cx="56.78" cy="197.7" r="2.2" fill="#1c1c1c"/>
<line x1="71.62" y1="195.5" x2="71.62" y2="202.5" stroke="#1c1c1c" stroke-width="1.5" />
<line x1="69.27" y1="195.5" x2="73.97" y2="195.5" stroke="#1c1c1c" stroke-width="1.9" />
<line x1="69.27" y1="202.5" x2="73.97" y2="202.5" stroke="#1c1c1c" stroke-width="1.9" />
<circle cx="71.62" cy="199" r="2.2" fill="#1c1c1c"/>
<circle cx="79.03" cy="203.3" r="2.1" fill="#1c1c1c"/>
<circle cx="86.45" cy="211.3" r="2.1" fill="#1c1c1c"/>
<circle cx="93.87" cy="212.8" r="2.1" fill="#1c1c1c"/>
<circle cx="101.28" cy="214.7" r="2.1" fill="#1c1c1c"/>
<circle cx="108.7" cy="216.6" r="2.1" fill="#1c1c1c"/>
<circle cx="116.12" cy="214.5" r="2.1" fill="#1c1c1c"/>
<circle cx="123.53" cy="217.6" r="2.1" fill="#1c1c1c"/>
<circle cx="130.95" cy="217" r="2.1" fill="#1c1c1c"/>
<circle cx="138.37" cy="218.9" r="2.1" fill="#1c1c1c"/>
<circle cx="145.78" cy="220.2" r="2.1" fill="#1c1c1c"/>
<circle cx="153.2" cy="219.1" r="2.1" fill="#1c1c1c"/>
<circle cx="160.62" cy="218" r="2.1" fill="#1c1c1c"/>
<circle cx="168.03" cy="221.8" r="2.1" fill="#1c1c1c"/>
<circle cx="175.45" cy="223.75" r="2.1" fill="#1c1c1c"/>
<circle cx="182.87" cy="222.6" r="2.1" fill="#1c1c1c"/>
<circle cx="190.28" cy="222.3" r="2.1" fill="#1c1c1c"/>
<circle cx="197.7" cy="222.8" r="2.1" fill="#1c1c1c"/>
<circle cx="205.12" cy="222.6" r="2.1" fill="#1c1c1c"/>
<circle cx="212.53" cy="224.5" r="2.1" fill="#1c1c1c"/>
<circle cx="219.95" cy="225.5" r="2.1" fill="#1c1c1c"/>
<circle cx="227.37" cy="225.1" r="2.1" fill="#1c1c1c"/>
<circle cx="234.78" cy="225.5" r="2.1" fill="#1c1c1c"/>
<circle cx="242.2" cy="224.7" r="2.1" fill="#1c1c1c"/>
<circle cx="249.62" cy="225.1" r="2.1" fill="#1c1c1c"/>
<circle cx="257.03" cy="226.4" r="2.1" fill="#1c1c1c"/>
<circle cx="264.45" cy="227" r="2.1" fill="#1c1c1c"/>
<circle cx="271.87" cy="227.6" r="2.1" fill="#1c1c1c"/>
<circle cx="279.28" cy="228" r="2.1" fill="#1c1c1c"/>
<circle cx="286.7" cy="227.4" r="2.1" fill="#1c1c1c"/>
<circle cx="56.78" cy="269.7" r="2.25" fill="#fff" stroke="#1c1c1c" stroke-width="1.15"/>
<circle cx="71.62" cy="269.7" r="2.25" fill="#fff" stroke="#1c1c1c" stroke-width="1.15"/>
<circle cx="79.03" cy="269.7" r="2.25" fill="#fff" stroke="#1c1c1c" stroke-width="1.15"/>
<circle cx="86.45" cy="269.7" r="2.25" fill="#fff" stroke="#1c1c1c" stroke-width="1.15"/>
<circle cx="93.87" cy="269.7" r="2.25" fill="#fff" stroke="#1c1c1c" stroke-width="1.15"/>
<circle cx="101.28" cy="269.7" r="2.25" fill="#fff" stroke="#1c1c1c" stroke-width="1.15"/>
<circle cx="108.7" cy="269.7" r="2.25" fill="#fff" stroke="#1c1c1c" stroke-width="1.15"/>
<circle cx="116.12" cy="269.7" r="2.25" fill="#fff" stroke="#1c1c1c" stroke-width="1.15"/>
<circle cx="123.53" cy="269.7" r="2.25" fill="#fff" stroke="#1c1c1c" stroke-width="1.15"/>
<circle cx="130.95" cy="269.7" r="2.25" fill="#fff" stroke="#1c1c1c" stroke-width="1.15"/>
<circle cx="138.37" cy="269.7" r="2.25" fill="#fff" stroke="#1c1c1c" stroke-width="1.15"/>
<circle cx="145.78" cy="269.7" r="2.25" fill="#fff" stroke="#1c1c1c" stroke-width="1.15"/>
<circle cx="153.2" cy="269.7" r="2.25" fill="#fff" stroke="#1c1c1c" stroke-width="1.15"/>
<circle cx="160.62" cy="269.7" r="2.25" fill="#fff" stroke="#1c1c1c" stroke-width="1.15"/>
<circle cx="168.03" cy="269.7" r="2.25" fill="#fff" stroke="#1c1c1c" stroke-width="1.15"/>
<circle cx="175.45" cy="269.7" r="2.25" fill="#fff" stroke="#1c1c1c" stroke-width="1.15"/>
<circle cx="182.87" cy="269.7" r="2.25" fill="#fff" stroke="#1c1c1c" stroke-width="1.15"/>
<circle cx="190.28" cy="269.7" r="2.25" fill="#fff" stroke="#1c1c1c" stroke-width="1.15"/>
<circle cx="197.7" cy="269.7" r="2.25" fill="#fff" stroke="#1c1c1c" stroke-width="1.15"/>
<circle cx="205.12" cy="269.7" r="2.25" fill="#fff" stroke="#1c1c1c" stroke-width="1.15"/>
<circle cx="212.53" cy="269.7" r="2.25" fill="#fff" stroke="#1c1c1c" stroke-width="1.15"/>
<circle cx="219.95" cy="269.7" r="2.25" fill="#fff" stroke="#1c1c1c" stroke-width="1.15"/>
<circle cx="227.37" cy="269.7" r="2.25" fill="#fff" stroke="#1c1c1c" stroke-width="1.15"/>
<circle cx="234.78" cy="269.7" r="2.25" fill="#fff" stroke="#1c1c1c" stroke-width="1.15"/>
<circle cx="242.2" cy="269.7" r="2.25" fill="#fff" stroke="#1c1c1c" stroke-width="1.15"/>
<circle cx="249.62" cy="269.7" r="2.25" fill="#fff" stroke="#1c1c1c" stroke-width="1.15"/>
<circle cx="257.03" cy="269.7" r="2.25" fill="#fff" stroke="#1c1c1c" stroke-width="1.15"/>
<circle cx="264.45" cy="269.7" r="2.25" fill="#fff" stroke="#1c1c1c" stroke-width="1.15"/>
<circle cx="271.87" cy="269.7" r="2.25" fill="#fff" stroke="#1c1c1c" stroke-width="1.15"/>
<circle cx="279.28" cy="269.7" r="2.25" fill="#fff" stroke="#1c1c1c" stroke-width="1.15"/>
<circle cx="286.7" cy="269.7" r="2.25" fill="#fff" stroke="#1c1c1c" stroke-width="1.15"/>
<text transform="translate(27,217.5) rotate(-90)" x="0" y="0" font-size="11.3" font-weight="bold" text-anchor="middle" fill="#1c1c1c" textLength="122.5" lengthAdjust="spacingAndGlyphs">Blood Glucose (mg/dl)</text>
<text transform="translate(320.1,206.6) rotate(-90)" x="0" y="0" font-size="11.4" font-weight="bold" text-anchor="middle" fill="#1c1c1c" textLength="120" lengthAdjust="spacingAndGlyphs">Glucose infusion rate</text>
<text transform="translate(332.9,205.5) rotate(-90)" x="0" y="0" font-size="8.9" font-weight="normal" text-anchor="middle" fill="#4a4a4a" textLength="57" lengthAdjust="spacingAndGlyphs">(mg/kg/min)</text>
<text x="154.4" y="290.8" font-size="11.4" font-weight="bold" font-style="normal" text-anchor="start" fill="#1c1c1c" textLength="43.6" lengthAdjust="spacingAndGlyphs" >Time (h)</text>
<line x1="390.1" y1="153.2" x2="390.1" y2="270.4" stroke="#1c1c1c" stroke-width="1.5" />
<line x1="636" y1="153.2" x2="636" y2="270.4" stroke="#1c1c1c" stroke-width="1.5" />
<line x1="386.9" y1="269.7" x2="636.7" y2="269.7" stroke="#1c1c1c" stroke-width="1.5" />
<line x1="636" y1="269.7" x2="639" y2="269.7" stroke="#1c1c1c" stroke-width="1.3" />
<text x="385.8" y="273" font-size="8.4" font-weight="bold" font-style="normal" text-anchor="end" fill="#1c1c1c" textLength="4.95" lengthAdjust="spacingAndGlyphs" stroke="#1c1c1c" stroke-width="0.25">0</text>
<text x="639.4" y="273" font-size="8.4" font-weight="bold" font-style="normal" text-anchor="start" fill="#1c1c1c" textLength="4.95" lengthAdjust="spacingAndGlyphs" stroke="#1c1c1c" stroke-width="0.25">0</text>
<line x1="386.9" y1="246.54" x2="390.1" y2="246.54" stroke="#1c1c1c" stroke-width="1.3" />
<line x1="636" y1="246.54" x2="639" y2="246.54" stroke="#1c1c1c" stroke-width="1.3" />
<text x="385.8" y="249.84" font-size="8.4" font-weight="bold" font-style="normal" text-anchor="end" fill="#1c1c1c" textLength="9.9" lengthAdjust="spacingAndGlyphs" stroke="#1c1c1c" stroke-width="0.25">50</text>
<text x="639.4" y="249.84" font-size="8.4" font-weight="bold" font-style="normal" text-anchor="start" fill="#1c1c1c" textLength="9.9" lengthAdjust="spacingAndGlyphs" stroke="#1c1c1c" stroke-width="0.25">50</text>
<line x1="386.9" y1="223.38" x2="390.1" y2="223.38" stroke="#1c1c1c" stroke-width="1.3" />
<line x1="636" y1="223.38" x2="639" y2="223.38" stroke="#1c1c1c" stroke-width="1.3" />
<text x="385.8" y="226.68" font-size="8.4" font-weight="bold" font-style="normal" text-anchor="end" fill="#1c1c1c" textLength="14.85" lengthAdjust="spacingAndGlyphs" stroke="#1c1c1c" stroke-width="0.25">100</text>
<text x="639.4" y="226.68" font-size="8.4" font-weight="bold" font-style="normal" text-anchor="start" fill="#1c1c1c" textLength="14.85" lengthAdjust="spacingAndGlyphs" stroke="#1c1c1c" stroke-width="0.25">100</text>
<line x1="386.9" y1="200.22" x2="390.1" y2="200.22" stroke="#1c1c1c" stroke-width="1.3" />
<line x1="636" y1="200.22" x2="639" y2="200.22" stroke="#1c1c1c" stroke-width="1.3" />
<text x="385.8" y="203.52" font-size="8.4" font-weight="bold" font-style="normal" text-anchor="end" fill="#1c1c1c" textLength="14.85" lengthAdjust="spacingAndGlyphs" stroke="#1c1c1c" stroke-width="0.25">150</text>
<text x="639.4" y="203.52" font-size="8.4" font-weight="bold" font-style="normal" text-anchor="start" fill="#1c1c1c" textLength="14.85" lengthAdjust="spacingAndGlyphs" stroke="#1c1c1c" stroke-width="0.25">150</text>
<line x1="386.9" y1="177.06" x2="390.1" y2="177.06" stroke="#1c1c1c" stroke-width="1.3" />
<line x1="636" y1="177.06" x2="639" y2="177.06" stroke="#1c1c1c" stroke-width="1.3" />
<text x="385.8" y="180.36" font-size="8.4" font-weight="bold" font-style="normal" text-anchor="end" fill="#1c1c1c" textLength="14.85" lengthAdjust="spacingAndGlyphs" stroke="#1c1c1c" stroke-width="0.25">200</text>
<text x="639.4" y="180.36" font-size="8.4" font-weight="bold" font-style="normal" text-anchor="start" fill="#1c1c1c" textLength="14.85" lengthAdjust="spacingAndGlyphs" stroke="#1c1c1c" stroke-width="0.25">200</text>
<line x1="386.9" y1="153.9" x2="390.1" y2="153.9" stroke="#1c1c1c" stroke-width="1.3" />
<line x1="636" y1="153.9" x2="639" y2="153.9" stroke="#1c1c1c" stroke-width="1.3" />
<text x="385.8" y="157.2" font-size="8.4" font-weight="bold" font-style="normal" text-anchor="end" fill="#1c1c1c" textLength="14.85" lengthAdjust="spacingAndGlyphs" stroke="#1c1c1c" stroke-width="0.25">250</text>
<text x="639.4" y="157.2" font-size="8.4" font-weight="bold" font-style="normal" text-anchor="start" fill="#1c1c1c" textLength="14.85" lengthAdjust="spacingAndGlyphs" stroke="#1c1c1c" stroke-width="0.25">250</text>
<line x1="404.5" y1="269.7" x2="404.5" y2="272.6" stroke="#1c1c1c" stroke-width="1.3" />
<text x="404.5" y="281.3" font-size="8.8" font-weight="bold" font-style="normal" text-anchor="middle" fill="#1c1c1c" stroke="#1c1c1c" stroke-width="0.25">0</text>
<line x1="449.4" y1="269.7" x2="449.4" y2="272.6" stroke="#1c1c1c" stroke-width="1.3" />
<text x="449.4" y="281.3" font-size="8.8" font-weight="bold" font-style="normal" text-anchor="middle" fill="#1c1c1c" stroke="#1c1c1c" stroke-width="0.25">1</text>
<line x1="494.3" y1="269.7" x2="494.3" y2="272.6" stroke="#1c1c1c" stroke-width="1.3" />
<text x="494.3" y="281.3" font-size="8.8" font-weight="bold" font-style="normal" text-anchor="middle" fill="#1c1c1c" stroke="#1c1c1c" stroke-width="0.25">2</text>
<line x1="539.2" y1="269.7" x2="539.2" y2="272.6" stroke="#1c1c1c" stroke-width="1.3" />
<text x="539.2" y="281.3" font-size="8.8" font-weight="bold" font-style="normal" text-anchor="middle" fill="#1c1c1c" stroke="#1c1c1c" stroke-width="0.25">3</text>
<line x1="584.1" y1="269.7" x2="584.1" y2="272.6" stroke="#1c1c1c" stroke-width="1.3" />
<text x="584.1" y="281.3" font-size="8.8" font-weight="bold" font-style="normal" text-anchor="middle" fill="#1c1c1c" stroke="#1c1c1c" stroke-width="0.25">4</text>
<line x1="629" y1="269.7" x2="629" y2="272.6" stroke="#1c1c1c" stroke-width="1.3" />
<text x="629" y="281.3" font-size="8.8" font-weight="bold" font-style="normal" text-anchor="middle" fill="#1c1c1c" stroke="#1c1c1c" stroke-width="0.25">5</text>
<polyline points="397.02,269.7 411.98,269.7 419.47,269.7 426.95,269.7 434.43,269.7 441.92,269.7 449.4,269.7 456.88,269.7 464.37,269.7 471.85,269.7 479.33,269.7 486.82,269.7 494.3,269.7 501.78,269.7 509.27,269.7 516.75,269.7 524.23,269.7 531.72,269.7 539.2,269.7 546.68,269.7 554.17,269.7 561.65,269.7 569.13,269.7 576.62,269.7 584.1,269.7 591.58,269.7 599.07,269.7 606.55,269.7 614.03,269.7 621.52,269.7 629,269.7" fill="none" stroke="#1c1c1c" stroke-width="1.1"/>
<polyline points="397.02,199 411.98,199.3 419.47,198 426.95,196.9 434.43,200.3 441.92,199.7 449.4,195.9 456.88,202.8 464.37,206.6 471.85,205.4 479.33,202.8 486.82,206.6 494.3,207.5 501.78,205 509.27,207.6 516.75,209.4 524.23,208.2 531.72,208.2 539.2,208.8 546.68,207.8 554.17,207.8 561.65,206.2 569.13,211.9 576.62,208.2 584.1,211.9 591.58,208.2 599.07,208.2 606.55,208.8 614.03,209.9 621.52,208.2 629,205.8" fill="none" stroke="#1c1c1c" stroke-width="1.2"/>
<circle cx="397.02" cy="199" r="2.1" fill="#1c1c1c"/>
<line x1="411.98" y1="196.3" x2="411.98" y2="202.3" stroke="#1c1c1c" stroke-width="1.5" />
<line x1="409.63" y1="196.3" x2="414.33" y2="196.3" stroke="#1c1c1c" stroke-width="1.9" />
<line x1="409.63" y1="202.3" x2="414.33" y2="202.3" stroke="#1c1c1c" stroke-width="1.9" />
<circle cx="411.98" cy="199.3" r="2.2" fill="#1c1c1c"/>
<line x1="419.47" y1="195" x2="419.47" y2="201" stroke="#1c1c1c" stroke-width="1.5" />
<line x1="417.12" y1="195" x2="421.82" y2="195" stroke="#1c1c1c" stroke-width="1.9" />
<line x1="417.12" y1="201" x2="421.82" y2="201" stroke="#1c1c1c" stroke-width="1.9" />
<circle cx="419.47" cy="198" r="2.2" fill="#1c1c1c"/>
<line x1="426.95" y1="193.9" x2="426.95" y2="199.9" stroke="#1c1c1c" stroke-width="1.5" />
<line x1="424.6" y1="193.9" x2="429.3" y2="193.9" stroke="#1c1c1c" stroke-width="1.9" />
<line x1="424.6" y1="199.9" x2="429.3" y2="199.9" stroke="#1c1c1c" stroke-width="1.9" />
<circle cx="426.95" cy="196.9" r="2.2" fill="#1c1c1c"/>
<line x1="434.43" y1="197.3" x2="434.43" y2="203.3" stroke="#1c1c1c" stroke-width="1.5" />
<line x1="432.08" y1="197.3" x2="436.78" y2="197.3" stroke="#1c1c1c" stroke-width="1.9" />
<line x1="432.08" y1="203.3" x2="436.78" y2="203.3" stroke="#1c1c1c" stroke-width="1.9" />
<circle cx="434.43" cy="200.3" r="2.2" fill="#1c1c1c"/>
<line x1="441.92" y1="196.2" x2="441.92" y2="203.2" stroke="#1c1c1c" stroke-width="1.5" />
<line x1="439.57" y1="196.2" x2="444.27" y2="196.2" stroke="#1c1c1c" stroke-width="1.9" />
<line x1="439.57" y1="203.2" x2="444.27" y2="203.2" stroke="#1c1c1c" stroke-width="1.9" />
<circle cx="441.92" cy="199.7" r="2.2" fill="#1c1c1c"/>
<line x1="449.4" y1="191.9" x2="449.4" y2="199.9" stroke="#1c1c1c" stroke-width="1.5" />
<line x1="447.05" y1="191.9" x2="451.75" y2="191.9" stroke="#1c1c1c" stroke-width="1.9" />
<line x1="447.05" y1="199.9" x2="451.75" y2="199.9" stroke="#1c1c1c" stroke-width="1.9" />
<circle cx="449.4" cy="195.9" r="2.2" fill="#1c1c1c"/>
<line x1="456.88" y1="198.8" x2="456.88" y2="206.8" stroke="#1c1c1c" stroke-width="1.5" />
<line x1="454.53" y1="198.8" x2="459.23" y2="198.8" stroke="#1c1c1c" stroke-width="1.9" />
<line x1="454.53" y1="206.8" x2="459.23" y2="206.8" stroke="#1c1c1c" stroke-width="1.9" />
<circle cx="456.88" cy="202.8" r="2.2" fill="#1c1c1c"/>
<line x1="464.37" y1="203.6" x2="464.37" y2="209.6" stroke="#1c1c1c" stroke-width="1.5" />
<line x1="462.02" y1="203.6" x2="466.72" y2="203.6" stroke="#1c1c1c" stroke-width="1.9" />
<line x1="462.02" y1="209.6" x2="466.72" y2="209.6" stroke="#1c1c1c" stroke-width="1.9" />
<circle cx="464.37" cy="206.6" r="2.2" fill="#1c1c1c"/>
<line x1="471.85" y1="202.4" x2="471.85" y2="208.4" stroke="#1c1c1c" stroke-width="1.5" />
<line x1="469.5" y1="202.4" x2="474.2" y2="202.4" stroke="#1c1c1c" stroke-width="1.9" />
<line x1="469.5" y1="208.4" x2="474.2" y2="208.4" stroke="#1c1c1c" stroke-width="1.9" />
<circle cx="471.85" cy="205.4" r="2.2" fill="#1c1c1c"/>
<line x1="479.33" y1="199.8" x2="479.33" y2="205.8" stroke="#1c1c1c" stroke-width="1.5" />
<line x1="476.98" y1="199.8" x2="481.68" y2="199.8" stroke="#1c1c1c" stroke-width="1.9" />
<line x1="476.98" y1="205.8" x2="481.68" y2="205.8" stroke="#1c1c1c" stroke-width="1.9" />
<circle cx="479.33" cy="202.8" r="2.2" fill="#1c1c1c"/>
<circle cx="486.82" cy="206.6" r="2.1" fill="#1c1c1c"/>
<circle cx="494.3" cy="207.5" r="2.1" fill="#1c1c1c"/>
<line x1="501.78" y1="202.5" x2="501.78" y2="207.5" stroke="#1c1c1c" stroke-width="1.5" />
<line x1="499.43" y1="202.5" x2="504.13" y2="202.5" stroke="#1c1c1c" stroke-width="1.9" />
<line x1="499.43" y1="207.5" x2="504.13" y2="207.5" stroke="#1c1c1c" stroke-width="1.9" />
<circle cx="501.78" cy="205" r="2.2" fill="#1c1c1c"/>
<circle cx="509.27" cy="207.6" r="2.1" fill="#1c1c1c"/>
<circle cx="516.75" cy="209.4" r="2.1" fill="#1c1c1c"/>
<line x1="524.23" y1="205.7" x2="524.23" y2="210.7" stroke="#1c1c1c" stroke-width="1.5" />
<line x1="521.88" y1="205.7" x2="526.58" y2="205.7" stroke="#1c1c1c" stroke-width="1.9" />
<line x1="521.88" y1="210.7" x2="526.58" y2="210.7" stroke="#1c1c1c" stroke-width="1.9" />
<circle cx="524.23" cy="208.2" r="2.2" fill="#1c1c1c"/>
<circle cx="531.72" cy="208.2" r="2.1" fill="#1c1c1c"/>
<circle cx="539.2" cy="208.8" r="2.1" fill="#1c1c1c"/>
<line x1="546.68" y1="205.3" x2="546.68" y2="210.3" stroke="#1c1c1c" stroke-width="1.5" />
<line x1="544.33" y1="205.3" x2="549.03" y2="205.3" stroke="#1c1c1c" stroke-width="1.9" />
<line x1="544.33" y1="210.3" x2="549.03" y2="210.3" stroke="#1c1c1c" stroke-width="1.9" />
<circle cx="546.68" cy="207.8" r="2.2" fill="#1c1c1c"/>
<line x1="554.17" y1="204.3" x2="554.17" y2="211.3" stroke="#1c1c1c" stroke-width="1.5" />
<line x1="551.82" y1="204.3" x2="556.52" y2="204.3" stroke="#1c1c1c" stroke-width="1.9" />
<line x1="551.82" y1="211.3" x2="556.52" y2="211.3" stroke="#1c1c1c" stroke-width="1.9" />
<circle cx="554.17" cy="207.8" r="2.2" fill="#1c1c1c"/>
<line x1="561.65" y1="202.7" x2="561.65" y2="209.7" stroke="#1c1c1c" stroke-width="1.5" />
<line x1="559.3" y1="202.7" x2="564" y2="202.7" stroke="#1c1c1c" stroke-width="1.9" />
<line x1="559.3" y1="209.7" x2="564" y2="209.7" stroke="#1c1c1c" stroke-width="1.9" />
<circle cx="561.65" cy="206.2" r="2.2" fill="#1c1c1c"/>
<circle cx="569.13" cy="211.9" r="2.1" fill="#1c1c1c"/>
<line x1="576.62" y1="205.2" x2="576.62" y2="211.2" stroke="#1c1c1c" stroke-width="1.5" />
<line x1="574.27" y1="205.2" x2="578.97" y2="205.2" stroke="#1c1c1c" stroke-width="1.9" />
<line x1="574.27" y1="211.2" x2="578.97" y2="211.2" stroke="#1c1c1c" stroke-width="1.9" />
<circle cx="576.62" cy="208.2" r="2.2" fill="#1c1c1c"/>
<circle cx="584.1" cy="211.9" r="2.1" fill="#1c1c1c"/>
<line x1="591.58" y1="205.2" x2="591.58" y2="211.2" stroke="#1c1c1c" stroke-width="1.5" />
<line x1="589.23" y1="205.2" x2="593.93" y2="205.2" stroke="#1c1c1c" stroke-width="1.9" />
<line x1="589.23" y1="211.2" x2="593.93" y2="211.2" stroke="#1c1c1c" stroke-width="1.9" />
<circle cx="591.58" cy="208.2" r="2.2" fill="#1c1c1c"/>
<circle cx="599.07" cy="208.2" r="2.1" fill="#1c1c1c"/>
<circle cx="606.55" cy="208.8" r="2.1" fill="#1c1c1c"/>
<circle cx="614.03" cy="209.9" r="2.1" fill="#1c1c1c"/>
<line x1="621.52" y1="205.7" x2="621.52" y2="210.7" stroke="#1c1c1c" stroke-width="1.5" />
<line x1="619.17" y1="205.7" x2="623.87" y2="205.7" stroke="#1c1c1c" stroke-width="1.9" />
<line x1="619.17" y1="210.7" x2="623.87" y2="210.7" stroke="#1c1c1c" stroke-width="1.9" />
<circle cx="621.52" cy="208.2" r="2.2" fill="#1c1c1c"/>
<line x1="629" y1="202.3" x2="629" y2="209.3" stroke="#1c1c1c" stroke-width="1.5" />
<line x1="626.65" y1="202.3" x2="631.35" y2="202.3" stroke="#1c1c1c" stroke-width="1.9" />
<line x1="626.65" y1="209.3" x2="631.35" y2="209.3" stroke="#1c1c1c" stroke-width="1.9" />
<circle cx="629" cy="205.8" r="2.2" fill="#1c1c1c"/>
<circle cx="397.02" cy="269.7" r="2.25" fill="#fff" stroke="#1c1c1c" stroke-width="1.15"/>
<circle cx="411.98" cy="269.7" r="2.25" fill="#fff" stroke="#1c1c1c" stroke-width="1.15"/>
<circle cx="419.47" cy="269.7" r="2.25" fill="#fff" stroke="#1c1c1c" stroke-width="1.15"/>
<circle cx="426.95" cy="269.7" r="2.25" fill="#fff" stroke="#1c1c1c" stroke-width="1.15"/>
<circle cx="434.43" cy="269.7" r="2.25" fill="#fff" stroke="#1c1c1c" stroke-width="1.15"/>
<circle cx="441.92" cy="269.7" r="2.25" fill="#fff" stroke="#1c1c1c" stroke-width="1.15"/>
<circle cx="449.4" cy="269.7" r="2.25" fill="#fff" stroke="#1c1c1c" stroke-width="1.15"/>
<circle cx="456.88" cy="269.7" r="2.25" fill="#fff" stroke="#1c1c1c" stroke-width="1.15"/>
<circle cx="464.37" cy="269.7" r="2.25" fill="#fff" stroke="#1c1c1c" stroke-width="1.15"/>
<circle cx="471.85" cy="269.7" r="2.25" fill="#fff" stroke="#1c1c1c" stroke-width="1.15"/>
<circle cx="479.33" cy="269.7" r="2.25" fill="#fff" stroke="#1c1c1c" stroke-width="1.15"/>
<circle cx="486.82" cy="269.7" r="2.25" fill="#fff" stroke="#1c1c1c" stroke-width="1.15"/>
<circle cx="494.3" cy="269.7" r="2.25" fill="#fff" stroke="#1c1c1c" stroke-width="1.15"/>
<circle cx="501.78" cy="269.7" r="2.25" fill="#fff" stroke="#1c1c1c" stroke-width="1.15"/>
<circle cx="509.27" cy="269.7" r="2.25" fill="#fff" stroke="#1c1c1c" stroke-width="1.15"/>
<circle cx="516.75" cy="269.7" r="2.25" fill="#fff" stroke="#1c1c1c" stroke-width="1.15"/>
<circle cx="524.23" cy="269.7" r="2.25" fill="#fff" stroke="#1c1c1c" stroke-width="1.15"/>
<circle cx="531.72" cy="269.7" r="2.25" fill="#fff" stroke="#1c1c1c" stroke-width="1.15"/>
<circle cx="539.2" cy="269.7" r="2.25" fill="#fff" stroke="#1c1c1c" stroke-width="1.15"/>
<circle cx="546.68" cy="269.7" r="2.25" fill="#fff" stroke="#1c1c1c" stroke-width="1.15"/>
<circle cx="554.17" cy="269.7" r="2.25" fill="#fff" stroke="#1c1c1c" stroke-width="1.15"/>
<circle cx="561.65" cy="269.7" r="2.25" fill="#fff" stroke="#1c1c1c" stroke-width="1.15"/>
<circle cx="569.13" cy="269.7" r="2.25" fill="#fff" stroke="#1c1c1c" stroke-width="1.15"/>
<circle cx="576.62" cy="269.7" r="2.25" fill="#fff" stroke="#1c1c1c" stroke-width="1.15"/>
<circle cx="584.1" cy="269.7" r="2.25" fill="#fff" stroke="#1c1c1c" stroke-width="1.15"/>
<circle cx="591.58" cy="269.7" r="2.25" fill="#fff" stroke="#1c1c1c" stroke-width="1.15"/>
<circle cx="599.07" cy="269.7" r="2.25" fill="#fff" stroke="#1c1c1c" stroke-width="1.15"/>
<circle cx="606.55" cy="269.7" r="2.25" fill="#fff" stroke="#1c1c1c" stroke-width="1.15"/>
<circle cx="614.03" cy="269.7" r="2.25" fill="#fff" stroke="#1c1c1c" stroke-width="1.15"/>
<circle cx="621.52" cy="269.7" r="2.25" fill="#fff" stroke="#1c1c1c" stroke-width="1.15"/>
<circle cx="629" cy="269.7" r="2.25" fill="#fff" stroke="#1c1c1c" stroke-width="1.15"/>
<text transform="translate(366.2,215.2) rotate(-90)" x="0" y="0" font-size="11.3" font-weight="bold" text-anchor="middle" fill="#1c1c1c" textLength="122.5" lengthAdjust="spacingAndGlyphs">Blood Glucose (mg/dl)</text>
<text transform="translate(661.5,206.6) rotate(-90)" x="0" y="0" font-size="11.4" font-weight="bold" text-anchor="middle" fill="#1c1c1c" textLength="120" lengthAdjust="spacingAndGlyphs">Glucose infusion rate</text>
<text transform="translate(674.3,205.5) rotate(-90)" x="0" y="0" font-size="8.9" font-weight="normal" text-anchor="middle" fill="#4a4a4a" textLength="57" lengthAdjust="spacingAndGlyphs">(mg/kg/min)</text>
<text x="494.6" y="290.8" font-size="11.4" font-weight="bold" font-style="normal" text-anchor="start" fill="#1c1c1c" textLength="43.6" lengthAdjust="spacingAndGlyphs" >Time (h)</text>
<text x="-0.3" y="12.7" font-size="18" font-weight="bold" font-style="normal" text-anchor="start" fill="#1c1c1c" stroke="#1c1c1c" stroke-width="0.3">a</text>
<text x="334.4" y="12.9" font-size="18" font-weight="bold" font-style="normal" text-anchor="start" fill="#1c1c1c" stroke="#1c1c1c" stroke-width="0.3">b</text>
<text x="0" y="152.6" font-size="18" font-weight="bold" font-style="normal" text-anchor="start" fill="#1c1c1c" stroke="#1c1c1c" stroke-width="0.3">c</text>
<text x="334.3" y="152.7" font-size="18" font-weight="bold" font-style="normal" text-anchor="start" fill="#1c1c1c" stroke="#1c1c1c" stroke-width="0.3">d</text>
<text x="0.1" y="309.4" font-size="20" font-weight="bold" font-style="normal" text-anchor="start" fill="#1c1c1c" stroke="#1c1c1c" stroke-width="0.3">e</text>
<text x="334.8" y="308.8" font-size="18" font-weight="bold" font-style="normal" text-anchor="start" fill="#1c1c1c" stroke="#1c1c1c" stroke-width="0.3">f</text>
<text x="57.2" y="23.5" font-size="11.3" font-weight="bold" font-style="normal" text-anchor="start" fill="#1c1c1c" textLength="120.5" lengthAdjust="spacingAndGlyphs" >Insulin (12mU/kg/min)</text>
<rect x="61.85" y="26.7" width="2.9" height="13.2" fill="#1c1c1c"/>
<polygon points="59.1,38.9 67.5,38.9 63.3,47.3" fill="#1c1c1c"/>
<text x="57.9" y="98.7" font-size="11.4" font-weight="bold" font-style="italic" text-anchor="start" fill="#7a7a7a" textLength="94.5" lengthAdjust="spacingAndGlyphs" >Glucose infusion</text>
<rect x="61.95" y="100.4" width="2.9" height="8.5" fill="#1c1c1c"/>
<polygon points="59.2,107.9 67.6,107.9 63.4,116.3" fill="#1c1c1c"/>
<text x="398.4" y="23.1" font-size="11.3" font-weight="bold" font-style="normal" text-anchor="start" fill="#1c1c1c" textLength="121.6" lengthAdjust="spacingAndGlyphs" >Caerulein (50 µg/kg/h)</text>
<rect x="403.45" y="26" width="2.9" height="12.7" fill="#1c1c1c"/>
<polygon points="400.7,37.7 409.1,37.7 404.9,46.1" fill="#1c1c1c"/>
<text x="478.3" y="40.9" font-size="11.3" font-weight="bold" font-style="normal" text-anchor="start" fill="#1c1c1c" textLength="120.6" lengthAdjust="spacingAndGlyphs" >Insulin (12mU/kg/min)</text>
<rect x="484.55" y="42.8" width="2.9" height="12.7" fill="#1c1c1c"/>
<polygon points="481.8,54.5 490.2,54.5 486,62.9" fill="#1c1c1c"/>
<text x="401.4" y="97.7" font-size="11.4" font-weight="bold" font-style="italic" text-anchor="start" fill="#7a7a7a" textLength="94.5" lengthAdjust="spacingAndGlyphs" >Glucose infusion</text>
<rect x="489.75" y="98.8" width="2.9" height="4.8" fill="#1c1c1c"/>
<polygon points="487.3,102.6 495.1,102.6 491.2,110" fill="#1c1c1c"/>
<text x="57.1" y="174.5" font-size="11.3" font-weight="bold" font-style="normal" text-anchor="start" fill="#1c1c1c" textLength="121.6" lengthAdjust="spacingAndGlyphs" >Caerulein (50 µg/kg/h)</text>
<rect x="61.55" y="177.3" width="2.9" height="12.3" fill="#1c1c1c"/>
<polygon points="58.8,188.6 67.2,188.6 63,197" fill="#1c1c1c"/>
<text x="145.9" y="252.5" font-size="11.3" font-weight="bold" font-style="italic" text-anchor="start" fill="#7a7a7a" textLength="109.2" lengthAdjust="spacingAndGlyphs" >no glucose infusion</text>
<line x1="152.5" y1="254.5" x2="144.09" y2="262.91" stroke="#1c1c1c" stroke-width="2" />
<polygon points="140.2,266.8 142.46,260.58 146.42,264.54" fill="#1c1c1c"/>
<text x="397.9" y="174.7" font-size="11.3" font-weight="bold" font-style="normal" text-anchor="start" fill="#1c1c1c" textLength="78.5" lengthAdjust="spacingAndGlyphs" >Saline Control</text>
<rect x="402.55" y="177.3" width="2.9" height="11.7" fill="#1c1c1c"/>
<polygon points="399.8,188 408.2,188 404,196.4" fill="#1c1c1c"/>
<text x="510.2" y="253.6" font-size="11.3" font-weight="bold" font-style="italic" text-anchor="start" fill="#7a7a7a" textLength="110" lengthAdjust="spacingAndGlyphs" >no glucose infusion</text>
<line x1="517.2" y1="254.8" x2="508.27" y2="263.39" stroke="#1c1c1c" stroke-width="2" />
<polygon points="504.3,267.2 506.69,261.02 510.57,265.06" fill="#1c1c1c"/>
<line x1="48.6" y1="301.8" x2="48.6" y2="448" stroke="#1c1c1c" stroke-width="1.5" />
<line x1="45.4" y1="447.3" x2="310.7" y2="447.3" stroke="#1c1c1c" stroke-width="1.5" />
<text x="43.8" y="451.3" font-size="8.8" font-weight="bold" font-style="normal" text-anchor="end" fill="#1c1c1c" textLength="4.6" lengthAdjust="spacingAndGlyphs" stroke="#1c1c1c" stroke-width="0.25">0</text>
<line x1="43.6" y1="389.35" x2="48.6" y2="389.35" stroke="#1c1c1c" stroke-width="1.3" />
<text x="43.8" y="393.35" font-size="8.8" font-weight="bold" font-style="normal" text-anchor="end" fill="#1c1c1c" textLength="9.3" lengthAdjust="spacingAndGlyphs" stroke="#1c1c1c" stroke-width="0.25">10</text>
<line x1="43.6" y1="331.4" x2="48.6" y2="331.4" stroke="#1c1c1c" stroke-width="1.3" />
<text x="43.8" y="335.4" font-size="8.8" font-weight="bold" font-style="normal" text-anchor="end" fill="#1c1c1c" textLength="9.3" lengthAdjust="spacingAndGlyphs" stroke="#1c1c1c" stroke-width="0.25">20</text>
<line x1="70.2" y1="447.3" x2="70.2" y2="450.9" stroke="#1c1c1c" stroke-width="1.3" />
<text x="70.2" y="460.4" font-size="8.6" font-weight="bold" font-style="normal" text-anchor="middle" fill="#1c1c1c" stroke="#1c1c1c" stroke-width="0.25">0</text>
<line x1="113.7" y1="447.3" x2="113.7" y2="450.9" stroke="#1c1c1c" stroke-width="1.3" />
<text x="113.7" y="460.4" font-size="8.6" font-weight="bold" font-style="normal" text-anchor="middle" fill="#1c1c1c" stroke="#1c1c1c" stroke-width="0.25">1</text>
<line x1="157.2" y1="447.3" x2="157.2" y2="450.9" stroke="#1c1c1c" stroke-width="1.3" />
<text x="157.2" y="460.4" font-size="8.6" font-weight="bold" font-style="normal" text-anchor="middle" fill="#1c1c1c" stroke="#1c1c1c" stroke-width="0.25">2</text>
<line x1="200.7" y1="447.3" x2="200.7" y2="450.9" stroke="#1c1c1c" stroke-width="1.3" />
<text x="200.7" y="460.4" font-size="8.6" font-weight="bold" font-style="normal" text-anchor="middle" fill="#1c1c1c" stroke="#1c1c1c" stroke-width="0.25">3</text>
<line x1="244.2" y1="447.3" x2="244.2" y2="450.9" stroke="#1c1c1c" stroke-width="1.3" />
<text x="244.2" y="460.4" font-size="8.6" font-weight="bold" font-style="normal" text-anchor="middle" fill="#1c1c1c" stroke="#1c1c1c" stroke-width="0.25">4</text>
<line x1="287.7" y1="447.3" x2="287.7" y2="450.9" stroke="#1c1c1c" stroke-width="1.3" />
<text x="287.7" y="460.4" font-size="8.6" font-weight="bold" font-style="normal" text-anchor="middle" fill="#1c1c1c" stroke="#1c1c1c" stroke-width="0.25">5</text>
<text x="158.6" y="469.1" font-size="11.4" font-weight="bold" font-style="normal" text-anchor="start" fill="#1c1c1c" textLength="44.2" lengthAdjust="spacingAndGlyphs" >Time (h)</text>
<text transform="translate(27.6,386.2) rotate(-90)" x="0" y="0" font-size="11.2" font-weight="bold" text-anchor="middle" fill="#1c1c1c" textLength="128.5" lengthAdjust="spacingAndGlyphs">Plasma Amylase (Uml<tspan font-size="7" dy="-4">-1</tspan><tspan dy="4">)</tspan></text>
<polyline points="70.2,421 113.7,394.5 200.7,384 287.7,360" fill="none" stroke="#1c1c1c" stroke-width="2.3" stroke-dasharray="0 7.4" stroke-linecap="round"/>
<polyline points="70.2,410.3 113.7,410.5 200.7,392.8 287.7,316" fill="none" stroke="#1c1c1c" stroke-width="2.3" stroke-dasharray="0 7.4" stroke-linecap="round"/>
<polyline points="70.2,419.8 113.7,419.6 200.7,406.5 287.7,388" fill="none" stroke="#1c1c1c" stroke-width="2.3" stroke-dasharray="0 7.4" stroke-linecap="round"/>
<rect x="63.85" y="392.1" width="10.1" height="8" fill="#1c1c1c"/>
<rect x="66.25" y="394.14" width="5.3" height="3.92" fill="#fff"/>
<rect x="63.85" y="403" width="10.1" height="8" fill="#1c1c1c"/>
<rect x="66.25" y="405.04" width="5.3" height="3.92" fill="#fff"/>
<rect x="64.95" y="412.5" width="10.1" height="8" fill="#1c1c1c"/>
<rect x="67.35" y="414.54" width="5.3" height="3.92" fill="#fff"/>
<rect x="75.25" y="411.8" width="10.1" height="8" fill="#1c1c1c"/>
<rect x="77.65" y="413.84" width="5.3" height="3.92" fill="#fff"/>
<polygon points="61.9,410.32 67.7,419.92 56.1,419.92" fill="#1c1c1c"/>
<polygon points="61.9,414.77 63.62,417.62 60.18,417.62" fill="#fff"/>
<polygon points="69,418.12 74.8,427.72 63.2,427.72" fill="#1c1c1c"/>
<polygon points="69,422.57 70.72,425.42 67.28,425.42" fill="#fff"/>
<ellipse cx="58.1" cy="420.3" rx="4.7" ry="4.05" fill="#1c1c1c"/>
<ellipse cx="58.1" cy="420.3" rx="2.4" ry="1.87" fill="#8c8c8c"/>
<ellipse cx="73.9" cy="417.4" rx="4.7" ry="4.05" fill="#1c1c1c"/>
<ellipse cx="73.9" cy="417.4" rx="2.4" ry="1.87" fill="#8c8c8c"/>
<ellipse cx="68.6" cy="423.2" rx="4.7" ry="4.05" fill="#1c1c1c"/>
<ellipse cx="68.6" cy="423.2" rx="2.4" ry="1.87" fill="#8c8c8c"/>
<ellipse cx="79.1" cy="422.7" rx="4.7" ry="4.05" fill="#1c1c1c"/>
<ellipse cx="79.1" cy="422.7" rx="2.4" ry="1.87" fill="#8c8c8c"/>
<rect x="97.15" y="397.2" width="10.1" height="8" fill="#1c1c1c"/>
<rect x="99.55" y="399.24" width="5.3" height="3.92" fill="#fff"/>
<rect x="107.65" y="401.9" width="10.1" height="8" fill="#1c1c1c"/>
<rect x="110.05" y="403.94" width="5.3" height="3.92" fill="#fff"/>
<rect x="107.65" y="411.9" width="10.1" height="8" fill="#1c1c1c"/>
<rect x="110.05" y="413.94" width="5.3" height="3.92" fill="#fff"/>
<rect x="118.15" y="410.7" width="10.1" height="8" fill="#1c1c1c"/>
<rect x="120.55" y="412.74" width="5.3" height="3.92" fill="#fff"/>
<polygon points="99.6,412.12 105.4,421.72 93.8,421.72" fill="#1c1c1c"/>
<polygon points="99.6,416.57 101.32,419.42 97.88,419.42" fill="#fff"/>
<polygon points="112.7,417.52 118.5,427.12 106.9,427.12" fill="#1c1c1c"/>
<polygon points="112.7,421.97 114.42,424.82 110.98,424.82" fill="#fff"/>
<polygon points="125.8,416.62 131.6,426.22 120,426.22" fill="#1c1c1c"/>
<polygon points="125.8,421.07 127.52,423.92 124.08,423.92" fill="#fff"/>
<ellipse cx="101.7" cy="384.4" rx="4.7" ry="4.05" fill="#1c1c1c"/>
<ellipse cx="101.7" cy="384.4" rx="2.4" ry="1.87" fill="#8c8c8c"/>
<ellipse cx="112.7" cy="392.8" rx="4.7" ry="4.05" fill="#1c1c1c"/>
<ellipse cx="112.7" cy="392.8" rx="2.4" ry="1.87" fill="#8c8c8c"/>
<ellipse cx="123.2" cy="395" rx="4.7" ry="4.05" fill="#1c1c1c"/>
<ellipse cx="123.2" cy="395" rx="2.4" ry="1.87" fill="#8c8c8c"/>
<ellipse cx="112.7" cy="401.5" rx="4.7" ry="4.05" fill="#1c1c1c"/>
<ellipse cx="112.7" cy="401.5" rx="2.4" ry="1.87" fill="#8c8c8c"/>
<rect x="185.75" y="377.5" width="10.1" height="8" fill="#1c1c1c"/>
<rect x="188.15" y="379.54" width="5.3" height="3.92" fill="#fff"/>
<rect x="195.25" y="384.5" width="10.1" height="8" fill="#1c1c1c"/>
<rect x="197.65" y="386.54" width="5.3" height="3.92" fill="#fff"/>
<rect x="195.25" y="396.5" width="10.1" height="8" fill="#1c1c1c"/>
<rect x="197.65" y="398.54" width="5.3" height="3.92" fill="#fff"/>
<rect x="206.75" y="392.1" width="10.1" height="8" fill="#1c1c1c"/>
<rect x="209.15" y="394.14" width="5.3" height="3.92" fill="#fff"/>
<polygon points="187.6,398.92 193.4,408.52 181.8,408.52" fill="#1c1c1c"/>
<polygon points="187.6,403.37 189.32,406.22 185.88,406.22" fill="#fff"/>
<polygon points="201,403.72 206.8,413.32 195.2,413.32" fill="#1c1c1c"/>
<polygon points="201,408.17 202.72,411.02 199.28,411.02" fill="#fff"/>
<polygon points="208.6,398.72 214.4,408.32 202.8,408.32" fill="#1c1c1c"/>
<polygon points="208.6,403.17 210.32,406.02 206.88,406.02" fill="#fff"/>
<polygon points="215.6,401.12 221.4,410.72 209.8,410.72" fill="#1c1c1c"/>
<polygon points="215.6,405.57 217.32,408.42 213.88,408.42" fill="#fff"/>
<ellipse cx="190.8" cy="379.5" rx="4.7" ry="4.05" fill="#1c1c1c"/>
<ellipse cx="190.8" cy="379.5" rx="2.4" ry="1.87" fill="#8c8c8c"/>
<ellipse cx="201.6" cy="377.9" rx="4.7" ry="4.05" fill="#1c1c1c"/>
<ellipse cx="201.6" cy="377.9" rx="2.4" ry="1.87" fill="#8c8c8c"/>
<ellipse cx="200.3" cy="388.4" rx="4.7" ry="4.05" fill="#1c1c1c"/>
<ellipse cx="200.3" cy="388.4" rx="2.4" ry="1.87" fill="#8c8c8c"/>
<ellipse cx="211.5" cy="384.2" rx="4.7" ry="4.05" fill="#1c1c1c"/>
<ellipse cx="211.5" cy="384.2" rx="2.4" ry="1.87" fill="#8c8c8c"/>
<line x1="200.3" y1="391.5" x2="200.3" y2="393.5" stroke="#1c1c1c" stroke-width="1.5" />
<line x1="197" y1="391.5" x2="203.6" y2="391.5" stroke="#1c1c1c" stroke-width="1.8" />
<line x1="197" y1="393.5" x2="203.6" y2="393.5" stroke="#1c1c1c" stroke-width="1.8" />
<line x1="288.5" y1="307.9" x2="288.5" y2="323.8" stroke="#1c1c1c" stroke-width="1.5" />
<line x1="285.2" y1="307.9" x2="291.8" y2="307.9" stroke="#1c1c1c" stroke-width="1.8" />
<line x1="285.2" y1="315.8" x2="291.8" y2="315.8" stroke="#1c1c1c" stroke-width="1.8" />
<line x1="285.2" y1="323.8" x2="291.8" y2="323.8" stroke="#1c1c1c" stroke-width="1.8" />
<line x1="288.2" y1="350.2" x2="288.2" y2="370" stroke="#1c1c1c" stroke-width="1.5" />
<line x1="284.9" y1="350.2" x2="291.5" y2="350.2" stroke="#1c1c1c" stroke-width="1.8" />
<line x1="284.9" y1="360.5" x2="291.5" y2="360.5" stroke="#1c1c1c" stroke-width="1.8" />
<line x1="284.9" y1="370" x2="291.5" y2="370" stroke="#1c1c1c" stroke-width="1.8" />
<line x1="288.8" y1="391.2" x2="288.8" y2="396" stroke="#1c1c1c" stroke-width="1.5" />
<line x1="285.5" y1="391.2" x2="292.1" y2="391.2" stroke="#1c1c1c" stroke-width="1.8" />
<line x1="285.5" y1="393.6" x2="292.1" y2="393.6" stroke="#1c1c1c" stroke-width="1.8" />
<line x1="285.5" y1="396" x2="292.1" y2="396" stroke="#1c1c1c" stroke-width="1.8" />
<rect x="284.15" y="297.7" width="10.1" height="8" fill="#1c1c1c"/>
<rect x="286.55" y="299.74" width="5.3" height="3.92" fill="#fff"/>
<rect x="295.15" y="319.4" width="10.1" height="8" fill="#1c1c1c"/>
<rect x="297.55" y="321.44" width="5.3" height="3.92" fill="#fff"/>
<rect x="284.15" y="326.2" width="10.1" height="8" fill="#1c1c1c"/>
<rect x="286.55" y="328.24" width="5.3" height="3.92" fill="#fff"/>
<polygon points="276.3,384.12 282.1,393.72 270.5,393.72" fill="#1c1c1c"/>
<polygon points="276.3,388.57 278.02,391.42 274.58,391.42" fill="#fff"/>
<polygon points="289.2,384.32 295,393.92 283.4,393.92" fill="#1c1c1c"/>
<polygon points="289.2,388.77 290.92,391.62 287.48,391.62" fill="#fff"/>
<polygon points="289.2,396.52 295,406.12 283.4,406.12" fill="#1c1c1c"/>
<polygon points="289.2,400.97 290.92,403.82 287.48,403.82" fill="#fff"/>
<polygon points="303.2,379.42 309,389.02 297.4,389.02" fill="#1c1c1c"/>
<polygon points="303.2,383.87 304.92,386.72 301.48,386.72" fill="#fff"/>
<ellipse cx="289.2" cy="329" rx="4.7" ry="4.05" fill="#1c1c1c"/>
<ellipse cx="289.2" cy="329" rx="2.4" ry="1.87" fill="#8c8c8c"/>
<ellipse cx="289.2" cy="360" rx="4.7" ry="4.05" fill="#1c1c1c"/>
<ellipse cx="289.2" cy="360" rx="2.4" ry="1.87" fill="#8c8c8c"/>
<ellipse cx="300.2" cy="365.9" rx="4.7" ry="4.05" fill="#1c1c1c"/>
<ellipse cx="300.2" cy="365.9" rx="2.4" ry="1.87" fill="#8c8c8c"/>
<ellipse cx="289.2" cy="372.9" rx="4.7" ry="4.05" fill="#1c1c1c"/>
<ellipse cx="289.2" cy="372.9" rx="2.4" ry="1.87" fill="#8c8c8c"/>
<ellipse cx="63.8" cy="318" rx="3.75" ry="3.5" fill="#1c1c1c"/>
<ellipse cx="63.8" cy="318" rx="2.25" ry="2.08" fill="#8c8c8c"/>
<polygon points="64.4,329.11 68.7,336.91 60.1,336.91" fill="#1c1c1c"/>
<polygon points="64.4,332.01 66.33,335.51 62.47,335.51" fill="#fff"/>
<rect x="60.35" y="346.1" width="8.1" height="6.8" fill="#1c1c1c"/>
<rect x="61.95" y="347.46" width="4.9" height="4.08" fill="#fff"/>
<text x="71.7" y="321.7" font-size="10.6" font-weight="bold" font-style="normal" text-anchor="start" fill="#1c1c1c" textLength="189.8" lengthAdjust="spacingAndGlyphs" >caerulein bolus (50 µg/kg) every hour</text>
<text x="71.7" y="337.1" font-size="10.6" font-weight="bold" font-style="normal" text-anchor="start" fill="#1c1c1c" textLength="155.1" lengthAdjust="spacingAndGlyphs" >caerulein infusion (10 µg/kg/h)</text>
<text x="72.7" y="352.2" font-size="10.6" font-weight="bold" font-style="normal" text-anchor="start" fill="#1c1c1c" textLength="154.1" lengthAdjust="spacingAndGlyphs" >caerulein infusion (50 µg/kg/h)</text>
<line x1="391.8" y1="315.2" x2="391.8" y2="449.5" stroke="#1c1c1c" stroke-width="1.5" />
<line x1="388.6" y1="448.8" x2="640.3" y2="448.8" stroke="#1c1c1c" stroke-width="1.5" />
<text x="387.2" y="453" font-size="8.6" font-weight="bold" font-style="normal" text-anchor="end" fill="#1c1c1c" textLength="4.3" lengthAdjust="spacingAndGlyphs" stroke="#1c1c1c" stroke-width="0.25">0</text>
<line x1="388.2" y1="410.8" x2="391.8" y2="410.8" stroke="#1c1c1c" stroke-width="1.3" />
<text x="387.2" y="415" font-size="8.6" font-weight="bold" font-style="normal" text-anchor="end" fill="#1c1c1c" textLength="4.3" lengthAdjust="spacingAndGlyphs" stroke="#1c1c1c" stroke-width="0.25">5</text>
<line x1="388.2" y1="372.8" x2="391.8" y2="372.8" stroke="#1c1c1c" stroke-width="1.3" />
<text x="387.2" y="377" font-size="8.6" font-weight="bold" font-style="normal" text-anchor="end" fill="#1c1c1c" textLength="8.3" lengthAdjust="spacingAndGlyphs" stroke="#1c1c1c" stroke-width="0.25">10</text>
<line x1="388.2" y1="334.8" x2="391.8" y2="334.8" stroke="#1c1c1c" stroke-width="1.3" />
<text x="387.2" y="339" font-size="8.6" font-weight="bold" font-style="normal" text-anchor="end" fill="#1c1c1c" textLength="8.3" lengthAdjust="spacingAndGlyphs" stroke="#1c1c1c" stroke-width="0.25">15</text>
<text transform="translate(372.5,386.2) rotate(-90)" x="0" y="0" font-size="11.2" font-weight="bold" text-anchor="middle" fill="#1c1c1c" textLength="128.5" lengthAdjust="spacingAndGlyphs">Plasma Amylase (Uml<tspan font-size="7" dy="-4">-1</tspan><tspan dy="4">)</tspan></text>
<rect x="396.6" y="406.3" width="13.4" height="42.5" fill="#fff" stroke="#1c1c1c" stroke-width="1.8"/>
<rect x="418.9" y="407.3" width="13.5" height="41.5" fill="#fff" stroke="#1c1c1c" stroke-width="1.8"/>
<rect x="463.8" y="413.1" width="13.5" height="35.7" fill="#fff" stroke="#1c1c1c" stroke-width="1.8"/>
<rect x="487" y="340.2" width="13.2" height="108.6" fill="#6e6e6e" stroke="#1c1c1c" stroke-width="1.8"/>
<rect x="531.1" y="409.1" width="14" height="39.7" fill="#fff" stroke="#1c1c1c" stroke-width="1.8"/>
<rect x="553.7" y="380" width="13.9" height="68.8" fill="#a2a2a2" stroke="#1c1c1c" stroke-width="1.8"/>
<rect x="598.7" y="410.4" width="13.7" height="38.4" fill="#fff" stroke="#1c1c1c" stroke-width="1.8"/>
<rect x="621.3" y="412.9" width="13.7" height="35.9" fill="#dadada" stroke="#1c1c1c" stroke-width="1.8"/>
<text x="403.3" y="458.3" font-size="8.6" font-weight="bold" font-style="normal" text-anchor="middle" fill="#1c1c1c" textLength="4.3" lengthAdjust="spacingAndGlyphs" stroke="#1c1c1c" stroke-width="0.25">0</text>
<text x="425.6" y="458.3" font-size="8.6" font-weight="bold" font-style="normal" text-anchor="middle" fill="#1c1c1c" textLength="4.3" lengthAdjust="spacingAndGlyphs" stroke="#1c1c1c" stroke-width="0.25">5</text>
<text x="470.6" y="458.3" font-size="8.6" font-weight="bold" font-style="normal" text-anchor="middle" fill="#1c1c1c" textLength="4.3" lengthAdjust="spacingAndGlyphs" stroke="#1c1c1c" stroke-width="0.25">0</text>
<text x="493.6" y="458.3" font-size="8.6" font-weight="bold" font-style="normal" text-anchor="middle" fill="#1c1c1c" textLength="4.3" lengthAdjust="spacingAndGlyphs" stroke="#1c1c1c" stroke-width="0.25">5</text>
<text x="538.1" y="458.3" font-size="8.6" font-weight="bold" font-style="normal" text-anchor="middle" fill="#1c1c1c" textLength="4.3" lengthAdjust="spacingAndGlyphs" stroke="#1c1c1c" stroke-width="0.25">0</text>
<text x="560.6" y="458.3" font-size="8.6" font-weight="bold" font-style="normal" text-anchor="middle" fill="#1c1c1c" textLength="4.3" lengthAdjust="spacingAndGlyphs" stroke="#1c1c1c" stroke-width="0.25">5</text>
<text x="605.6" y="458.3" font-size="8.6" font-weight="bold" font-style="normal" text-anchor="middle" fill="#1c1c1c" textLength="4.3" lengthAdjust="spacingAndGlyphs" stroke="#1c1c1c" stroke-width="0.25">0</text>
<text x="628.1" y="458.3" font-size="8.6" font-weight="bold" font-style="normal" text-anchor="middle" fill="#1c1c1c" textLength="4.3" lengthAdjust="spacingAndGlyphs" stroke="#1c1c1c" stroke-width="0.25">5</text>
<text x="413.4" y="468.4" font-size="11.6" font-weight="bold" font-style="normal" text-anchor="middle" fill="#1c1c1c" >Saline</text>
<text x="480.6" y="468.4" font-size="11.6" font-weight="bold" font-style="normal" text-anchor="middle" fill="#1c1c1c" >Caerulein</text>
<text x="548.5" y="468.4" font-size="11.6" font-weight="bold" font-style="normal" text-anchor="middle" fill="#1c1c1c" >Caer-Ins</text>
<text x="616" y="468.4" font-size="11.6" font-weight="bold" font-style="normal" text-anchor="middle" fill="#1c1c1c" >Insulin</text>
<text x="641.5" y="457.6" font-size="10.8" font-weight="bold" font-style="normal" text-anchor="start" fill="#1c1c1c" textLength="43.5" lengthAdjust="spacingAndGlyphs" >Time (h)</text>
<line x1="403.3" y1="403" x2="403.3" y2="409.6" stroke="#1c1c1c" stroke-width="1.3" />
<line x1="400.3" y1="403" x2="406.3" y2="403" stroke="#1c1c1c" stroke-width="1.5" />
<line x1="400.3" y1="409.6" x2="406.3" y2="409.6" stroke="#1c1c1c" stroke-width="1.5" />
<line x1="425.6" y1="404" x2="425.6" y2="410.6" stroke="#1c1c1c" stroke-width="1.3" />
<line x1="422.6" y1="404" x2="428.6" y2="404" stroke="#1c1c1c" stroke-width="1.5" />
<line x1="422.6" y1="410.6" x2="428.6" y2="410.6" stroke="#1c1c1c" stroke-width="1.5" />
<line x1="470.6" y1="410" x2="470.6" y2="416.2" stroke="#1c1c1c" stroke-width="1.3" />
<line x1="467.6" y1="410" x2="473.6" y2="410" stroke="#1c1c1c" stroke-width="1.5" />
<line x1="467.6" y1="416.2" x2="473.6" y2="416.2" stroke="#1c1c1c" stroke-width="1.5" />
<line x1="493.6" y1="330.3" x2="493.6" y2="349.1" stroke="#1c1c1c" stroke-width="1.3" />
<line x1="490.6" y1="330.3" x2="496.6" y2="330.3" stroke="#1c1c1c" stroke-width="1.5" />
<line x1="490.6" y1="349.1" x2="496.6" y2="349.1" stroke="#1c1c1c" stroke-width="1.5" />
<line x1="538.1" y1="406.6" x2="538.1" y2="411.6" stroke="#1c1c1c" stroke-width="1.3" />
<line x1="535.1" y1="406.6" x2="541.1" y2="406.6" stroke="#1c1c1c" stroke-width="1.5" />
<line x1="535.1" y1="411.6" x2="541.1" y2="411.6" stroke="#1c1c1c" stroke-width="1.5" />
<line x1="560.6" y1="376.2" x2="560.6" y2="383.8" stroke="#1c1c1c" stroke-width="1.3" />
<line x1="557.6" y1="376.2" x2="563.6" y2="376.2" stroke="#1c1c1c" stroke-width="1.5" />
<line x1="557.6" y1="383.8" x2="563.6" y2="383.8" stroke="#1c1c1c" stroke-width="1.5" />
<line x1="605.6" y1="405.6" x2="605.6" y2="415.2" stroke="#1c1c1c" stroke-width="1.3" />
<line x1="602.6" y1="405.6" x2="608.6" y2="405.6" stroke="#1c1c1c" stroke-width="1.5" />
<line x1="602.6" y1="415.2" x2="608.6" y2="415.2" stroke="#1c1c1c" stroke-width="1.5" />
<line x1="628.1" y1="408.6" x2="628.1" y2="417.2" stroke="#1c1c1c" stroke-width="1.3" />
<line x1="625.1" y1="408.6" x2="631.1" y2="408.6" stroke="#1c1c1c" stroke-width="1.5" />
<line x1="625.1" y1="417.2" x2="631.1" y2="417.2" stroke="#1c1c1c" stroke-width="1.5" />
<ellipse cx="399.6" cy="396.6" rx="2.4" ry="2.0" fill="#1c1c1c"/>
<ellipse cx="406.4" cy="396.6" rx="2.4" ry="2.0" fill="#1c1c1c"/>
<ellipse cx="403.5" cy="399.5" rx="2.4" ry="2.0" fill="#1c1c1c"/>
<ellipse cx="399.6" cy="409.2" rx="2.4" ry="2.0" fill="#1c1c1c"/>
<ellipse cx="406.4" cy="410.2" rx="2.4" ry="2.0" fill="#1c1c1c"/>
<ellipse cx="401.6" cy="415.1" rx="2.4" ry="2.0" fill="#1c1c1c"/>
<ellipse cx="404" cy="412" rx="2.4" ry="2.0" fill="#1c1c1c"/>
<ellipse cx="425" cy="397.9" rx="2.4" ry="2.0" fill="#1c1c1c"/>
<ellipse cx="422" cy="402.4" rx="2.4" ry="2.0" fill="#1c1c1c"/>
<ellipse cx="429.4" cy="402.4" rx="2.4" ry="2.0" fill="#1c1c1c"/>
<ellipse cx="422" cy="410.2" rx="2.4" ry="2.0" fill="#1c1c1c"/>
<ellipse cx="429.4" cy="411.2" rx="2.4" ry="2.0" fill="#1c1c1c"/>
<ellipse cx="425" cy="415.1" rx="2.4" ry="2.0" fill="#1c1c1c"/>
<ellipse cx="470.7" cy="404.4" rx="2.4" ry="2.0" fill="#1c1c1c"/>
<ellipse cx="466.8" cy="407.3" rx="2.4" ry="2.0" fill="#1c1c1c"/>
<ellipse cx="474.6" cy="411.2" rx="2.4" ry="2.0" fill="#1c1c1c"/>
<ellipse cx="470.7" cy="411" rx="2.4" ry="2.0" fill="#1c1c1c"/>
<ellipse cx="470.7" cy="426.8" rx="2.4" ry="2.0" fill="#1c1c1c"/>
<ellipse cx="492.8" cy="321.6" rx="2.4" ry="2.0" fill="#1c1c1c"/>
<ellipse cx="492.8" cy="335" rx="2.4" ry="2.0" fill="#1c1c1c"/>
<ellipse cx="492.8" cy="344.5" rx="2.4" ry="2.0" fill="#1c1c1c"/>
<ellipse cx="492.8" cy="351.9" rx="2.4" ry="2.0" fill="#1c1c1c"/>
<ellipse cx="492.8" cy="375.2" rx="2.4" ry="2.0" fill="#1c1c1c"/>
<ellipse cx="534.4" cy="400.4" rx="2.4" ry="2.0" fill="#1c1c1c"/>
<ellipse cx="545.3" cy="405.4" rx="2.4" ry="2.0" fill="#1c1c1c"/>
<ellipse cx="533.6" cy="412.1" rx="2.4" ry="2.0" fill="#1c1c1c"/>
<ellipse cx="538.6" cy="412.6" rx="2.4" ry="2.0" fill="#1c1c1c"/>
<ellipse cx="541.5" cy="410.5" rx="2.4" ry="2.0" fill="#1c1c1c"/>
<ellipse cx="560.6" cy="356.8" rx="2.4" ry="2.0" fill="#1c1c1c"/>
<ellipse cx="559.9" cy="375" rx="2.4" ry="2.0" fill="#1c1c1c"/>
<ellipse cx="554" cy="382.3" rx="2.4" ry="2.0" fill="#1c1c1c"/>
<ellipse cx="558" cy="382.3" rx="2.4" ry="2.0" fill="#1c1c1c"/>
<ellipse cx="562.5" cy="382.3" rx="2.4" ry="2.0" fill="#1c1c1c"/>
<ellipse cx="566.8" cy="382.3" rx="2.4" ry="2.0" fill="#1c1c1c"/>
<ellipse cx="556.5" cy="386.8" rx="2.4" ry="2.0" fill="#1c1c1c"/>
<ellipse cx="560.6" cy="387.5" rx="2.4" ry="2.0" fill="#1c1c1c"/>
<ellipse cx="564.8" cy="386.8" rx="2.4" ry="2.0" fill="#1c1c1c"/>
<ellipse cx="560.6" cy="384" rx="2.4" ry="2.0" fill="#1c1c1c"/>
<ellipse cx="601.9" cy="400.4" rx="2.4" ry="2.0" fill="#1c1c1c"/>
<ellipse cx="608.8" cy="400.4" rx="2.4" ry="2.0" fill="#1c1c1c"/>
<ellipse cx="605.6" cy="405.4" rx="2.4" ry="2.0" fill="#1c1c1c"/>
<ellipse cx="601.9" cy="420.8" rx="2.4" ry="2.0" fill="#1c1c1c"/>
<ellipse cx="608.8" cy="420.8" rx="2.4" ry="2.0" fill="#1c1c1c"/>
<ellipse cx="624.2" cy="402.2" rx="2.4" ry="2.0" fill="#1c1c1c"/>
<ellipse cx="631.6" cy="402.2" rx="2.4" ry="2.0" fill="#1c1c1c"/>
<ellipse cx="628" cy="409.6" rx="2.4" ry="2.0" fill="#1c1c1c"/>
<ellipse cx="624.2" cy="415.8" rx="2.4" ry="2.0" fill="#1c1c1c"/>
<ellipse cx="631.6" cy="415.8" rx="2.4" ry="2.0" fill="#1c1c1c"/>
<ellipse cx="628" cy="423.3" rx="2.4" ry="2.0" fill="#1c1c1c"/>
<polyline points="470.9,394.6 470.9,310.6 561.7,310.6 561.7,344.5" fill="none" stroke="#1c1c1c" stroke-width="1.3"/>
<line x1="492.8" y1="310.6" x2="492.8" y2="318" stroke="#1c1c1c" stroke-width="1.4" />
<text x="502.6" y="305.8" font-size="9" font-weight="bold" font-style="italic" fill="#1c1c1c" textLength="35.5" lengthAdjust="spacingAndGlyphs">p&lt;1x10<tspan font-size="6" dy="-3.3">-4</tspan></text>
</svg>
</body></html>
